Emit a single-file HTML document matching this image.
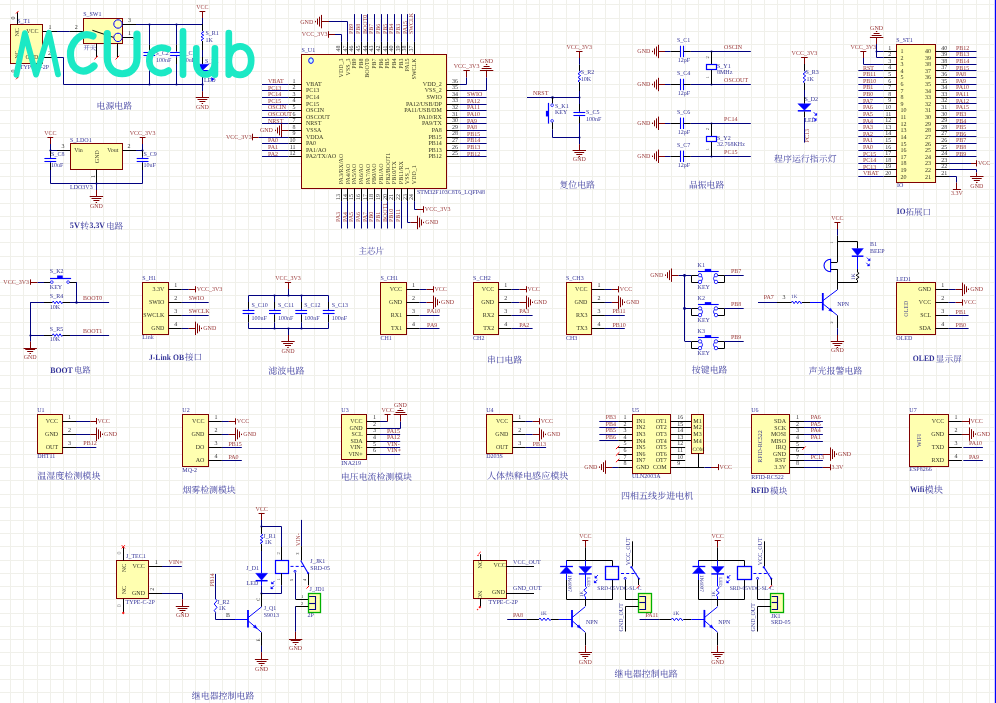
<!DOCTYPE html>
<html><head><meta charset="utf-8"><title>schematic</title>
<style>html,body{margin:0;padding:0;background:#fff;overflow:hidden}svg{display:block}text{font-family:"Liberation Serif",serif;text-rendering:geometricPrecision;fill-opacity:.82}text.cj{font-family:"Liberation Serif","Noto Serif CJK SC",serif;fill:#4040a0;fill-opacity:1}</style>
</head><body>
<svg width="996" height="703" viewBox="0 0 996 703" font-family="Liberation Serif, serif" fill="none">
<rect width="996" height="703" fill="#ffffff"/>
<path d="M10.5 0V703M23.5 0V703M37.5 0V703M50.5 0V703M63.5 0V703M76.5 0V703M90.5 0V703M103.5 0V703M116.5 0V703M129.5 0V703M142.5 0V703M156.5 0V703M169.5 0V703M182.5 0V703M195.5 0V703M209.5 0V703M222.5 0V703M235.5 0V703M248.5 0V703M261.5 0V703M275.5 0V703M288.5 0V703M301.5 0V703M314.5 0V703M328.5 0V703M341.5 0V703M354.5 0V703M367.5 0V703M380.5 0V703M394.5 0V703M407.5 0V703M420.5 0V703M433.5 0V703M447.5 0V703M460.5 0V703M473.5 0V703M486.5 0V703M499.5 0V703M513.5 0V703M526.5 0V703M539.5 0V703M552.5 0V703M566.5 0V703M579.5 0V703M592.5 0V703M605.5 0V703M619.5 0V703M632.5 0V703M645.5 0V703M658.5 0V703M671.5 0V703M685.5 0V703M698.5 0V703M711.5 0V703M724.5 0V703M738.5 0V703M751.5 0V703M764.5 0V703M777.5 0V703M790.5 0V703M804.5 0V703M817.5 0V703M830.5 0V703M843.5 0V703M857.5 0V703M870.5 0V703M883.5 0V703M896.5 0V703M909.5 0V703M923.5 0V703M936.5 0V703M949.5 0V703M962.5 0V703M976.5 0V703M989.5 0V703M0 4.5H994M0 18.5H994M0 31.5H994M0 44.5H994M0 57.5H994M0 71.5H994M0 84.5H994M0 97.5H994M0 110.5H994M0 123.5H994M0 137.5H994M0 150.5H994M0 163.5H994M0 176.5H994M0 189.5H994M0 203.5H994M0 216.5H994M0 229.5H994M0 242.5H994M0 256.5H994M0 269.5H994M0 282.5H994M0 295.5H994M0 308.5H994M0 322.5H994M0 335.5H994M0 348.5H994M0 361.5H994M0 375.5H994M0 388.5H994M0 401.5H994M0 414.5H994M0 427.5H994M0 441.5H994M0 454.5H994M0 467.5H994M0 480.5H994M0 494.5H994M0 507.5H994M0 520.5H994M0 533.5H994M0 546.5H994M0 560.5H994M0 573.5H994M0 586.5H994M0 599.5H994M0 613.5H994M0 626.5H994M0 639.5H994M0 652.5H994M0 665.5H994M0 679.5H994M0 692.5H994" stroke="#f0f0ea" stroke-width="1" shape-rendering="crispEdges"/>
<rect x="994.8" y="0" width="1.2" height="703" fill="#0000ff"/>
<g opacity="0.999">
<rect x="10.5" y="24.5" width="32" height="39" fill="#ffffb0" stroke="#800000" stroke-width="1"/>
<path d="M17.5 12.2L17.5 24.3" stroke="#000000" stroke-width="1"/>
<path d="M16 13.5L18.6 10.9" stroke="#ff0000" stroke-width="1"/>
<path d="M17.5 63.4L17.5 78" stroke="#000000" stroke-width="1"/>
<path d="M16 79.3L18.6 76.7" stroke="#ff0000" stroke-width="1"/>
<text x="15.2" y="19.5" fill="#000000" font-size="6" transform="rotate(-90 15.2 19.5)">0</text>
<text x="15.2" y="72.5" fill="#000000" font-size="6" transform="rotate(-90 15.2 72.5)">0</text>
<text x="17.2" y="22.8" fill="#000080" font-size="6">S_T1</text>
<text x="38.6" y="32.8" fill="#000000" font-size="6" text-anchor="end">VCC</text>
<text x="38.4" y="59" fill="#000000" font-size="6" text-anchor="end">GND</text>
<text x="18.6" y="36.5" fill="#000000" font-size="6" transform="rotate(-90 18.6 36.5)">NC</text>
<text x="18.6" y="58.8" fill="#000000" font-size="6" transform="rotate(-90 18.6 58.8)">NC</text>
<text x="19.8" y="68.6" fill="#000080" font-size="6">TYPE-C-2P</text>
<path d="M42.6 31.5L57 31.5" stroke="#000000" stroke-width="1"/>
<text x="48.5" y="28.6" fill="#000000" font-size="6">1</text>
<path d="M57 31.5L69.8 31.5" stroke="#000080" stroke-width="1" fill="none"/>
<path d="M69.8 31.5L83.2 31.5" stroke="#000000" stroke-width="1"/>
<text x="74.8" y="28.6" fill="#000000" font-size="6">2</text>
<path d="M42.6 57.5L57 57.5" stroke="#000000" stroke-width="1"/>
<text x="48" y="55" fill="#000000" font-size="6">2</text>
<path d="M57 57.5L63.5 57.5L63.5 84.5L202.4 84.5" stroke="#000080" stroke-width="1" fill="none"/>
<rect x="83.5" y="18.5" width="39" height="25" fill="#ffffb0" stroke="#800000" stroke-width="1"/>
<text x="83.2" y="16" fill="#000080" font-size="6">S_SW1</text>
<circle cx="118" cy="24" r="4.2" stroke="#0000ff" fill="none" stroke-width="1"/>
<circle cx="118" cy="37.4" r="4.2" stroke="#0000ff" fill="none" stroke-width="1"/>
<path d="M92.4 30.3L113.5 37.4" stroke="#000000" stroke-width="1"/>
<path d="M122.5 24.5L136 24.5" stroke="#000000" stroke-width="1"/>
<text x="128" y="21.8" fill="#000000" font-size="6">3</text>
<path d="M122.5 37.5L133.6 37.5" stroke="#000000" stroke-width="1"/>
<text x="128" y="35.3" fill="#000000" font-size="6">1</text>
<path d="M132.8 39.3L134.4 37.7" stroke="#ff0000" stroke-width="1"/>
<path d="M96.5 43.5L96.5 57" stroke="#000000" stroke-width="1"/>
<path d="M94.4 59.4L98 55.8" stroke="#ff0000" stroke-width="1"/>
<path d="M117.5 43.5L117.5 57" stroke="#000000" stroke-width="1"/>
<path d="M115.6 59.4L119.2 55.8" stroke="#ff0000" stroke-width="1"/>
<text class="cj" x="83.4" y="49.6" font-size="6.4">开关</text>
<path d="M136 24.5L202.4 24.5" stroke="#000080" stroke-width="1" fill="none"/>
<path d="M149.5 24L149.5 44.8" stroke="#000080" stroke-width="1" fill="none"/>
<path d="M149.5 44.8L149.5 51.4" stroke="#000000" stroke-width="1"/>
<path d="M149.5 57.2L149.5 64" stroke="#000000" stroke-width="1"/>
<path d="M149.5 64L149.5 84.3" stroke="#000080" stroke-width="1" fill="none"/>
<path d="M143.4 52.5L155.2 52.5" stroke="#0000ff" stroke-width="1.1"/>
<path d="M143.4 55.5L155.2 55.5" stroke="#0000ff" stroke-width="1.1"/>
<path d="M149.5 51.3L149.5 52.9" stroke="#0000ff" stroke-width="1"/>
<path d="M149.5 55.7L149.5 57.3" stroke="#0000ff" stroke-width="1"/>
<circle cx="149.5" cy="24.5" r="1.1" fill="#000080"/>
<circle cx="149.5" cy="84.5" r="1.1" fill="#000080"/>
<text x="155.5" y="54.9" fill="#000080" font-size="6">S_C2</text>
<text x="156.1" y="61.6" fill="#000080" font-size="6">100nF</text>
<path d="M176.5 24L176.5 44.8" stroke="#000080" stroke-width="1" fill="none"/>
<path d="M176.5 44.8L176.5 51.4" stroke="#000000" stroke-width="1"/>
<path d="M176.5 57.2L176.5 64" stroke="#000000" stroke-width="1"/>
<path d="M176.5 64L176.5 84.3" stroke="#000080" stroke-width="1" fill="none"/>
<path d="M170.1 52.5L181.9 52.5" stroke="#0000ff" stroke-width="1.1"/>
<path d="M170.1 55.5L181.9 55.5" stroke="#0000ff" stroke-width="1.1"/>
<path d="M176.5 51.3L176.5 52.9" stroke="#0000ff" stroke-width="1"/>
<path d="M176.5 55.7L176.5 57.3" stroke="#0000ff" stroke-width="1"/>
<circle cx="176.5" cy="24.5" r="1.1" fill="#000080"/>
<circle cx="176.5" cy="84.5" r="1.1" fill="#000080"/>
<text x="182.2" y="54.9" fill="#000080" font-size="6">S_C7</text>
<text x="182.8" y="61.6" fill="#000080" font-size="6">10uF</text>
<path d="M202.5 18L202.5 11.4" stroke="#800000" stroke-width="1"/>
<path d="M199.5 11.5L205.3 11.5" stroke="#800000" stroke-width="1"/>
<text x="202.4" y="9" fill="#800000" font-size="6" text-anchor="middle">VCC</text>
<path d="M202.5 18L202.5 24" stroke="#000080" stroke-width="1" fill="none"/>
<path d="M202.5 24L202.5 31" stroke="#000000" stroke-width="1"/>
<path d="M202.4 31L203.7 31.83L201.1 33.5L203.7 35.17L201.1 36.83L203.7 38.5L201.1 40.17L202.4 41" stroke="#0000ff" stroke-width="1" fill="none"/>
<path d="M202.5 41L202.5 50" stroke="#000000" stroke-width="1"/>
<text x="205.5" y="34.6" fill="#000080" font-size="6">S_R1</text>
<text x="205.5" y="41.6" fill="#000080" font-size="6">1K</text>
<path d="M202.5 50L202.5 57" stroke="#000080" stroke-width="1" fill="none"/>
<path d="M202.5 57L202.5 64.3" stroke="#000000" stroke-width="1"/>
<path d="M195.9 64.3L208.9 64.3L202.4 70.4Z" stroke="#0000ff" stroke-width="0.5" fill="#0000ff"/>
<path d="M195.9 70.8L208.9 70.8" stroke="#0000ff" stroke-width="1.6"/>
<text x="205" y="62.5" fill="#000080" font-size="6">S_D1</text>
<text x="204" y="81.6" fill="#000080" font-size="6">LED</text>
<path d="M211.5 77.6L214.2 79.2L211.5 80.8Z" stroke="#0000ff" stroke-width="0.5" fill="#0000ff"/>
<path d="M202.5 71.5L202.5 78" stroke="#000000" stroke-width="1"/>
<path d="M202.5 78L202.5 91.2" stroke="#000080" stroke-width="1" fill="none"/>
<circle cx="202.5" cy="84.5" r="1.1" fill="#000080"/>
<path d="M202.5 91.2L202.5 97.8" stroke="#800000" stroke-width="1"/>
<path d="M195.7 97.5L209.1 97.5" stroke="#800000" stroke-width="1"/>
<path d="M197.5 99.5L207.3 99.5" stroke="#800000" stroke-width="1"/>
<path d="M199.4 101.5L205.4 101.5" stroke="#800000" stroke-width="1"/>
<path d="M201.7 103.5L203.1 103.5" stroke="#800000" stroke-width="1"/>
<text x="202.4" y="109.05" fill="#800000" font-size="6" text-anchor="middle">GND</text>
<text class="cj" x="96.6" y="109" font-size="8.9">电源电路</text>
<rect x="70.5" y="143.5" width="52" height="26" fill="#ffffb0" stroke="#800000" stroke-width="1"/>
<text x="70" y="141.6" fill="#000080" font-size="6">S_LDO1</text>
<text x="74.2" y="151.6" fill="#000000" font-size="6">Vin</text>
<text x="118.4" y="151.6" fill="#000000" font-size="6" text-anchor="end">Vout</text>
<text x="98.6" y="163.2" fill="#000000" font-size="6" transform="rotate(-90 98.6 163.2)">GND</text>
<path d="M57 150.5L70.2 150.5" stroke="#000000" stroke-width="1"/>
<text x="61.5" y="148" fill="#000000" font-size="6">3</text>
<path d="M122.6 150.5L136 150.5" stroke="#000000" stroke-width="1"/>
<text x="127.5" y="148" fill="#000000" font-size="6">2</text>
<path d="M96.5 169.5L96.5 183" stroke="#000000" stroke-width="1"/>
<text x="94.6" y="178" fill="#000000" font-size="6" transform="rotate(-90 94.6 178)">1</text>
<text x="70" y="188.6" fill="#000080" font-size="6">LDO3V3</text>
<path d="M50.5 144L50.5 137.4" stroke="#800000" stroke-width="1"/>
<path d="M47.4 137.5L53.2 137.5" stroke="#800000" stroke-width="1"/>
<text x="50.3" y="135" fill="#800000" font-size="6" text-anchor="middle">VCC</text>
<path d="M50.5 144L50.5 150" stroke="#000080" stroke-width="1" fill="none"/>
<circle cx="50.5" cy="150.5" r="1.1" fill="#000080"/>
<path d="M50.5 150L50.5 156.9" stroke="#000000" stroke-width="1"/>
<path d="M44.4 158.5L56.2 158.5" stroke="#0000ff" stroke-width="1.1"/>
<path d="M44.4 161.5L56.2 161.5" stroke="#0000ff" stroke-width="1.1"/>
<path d="M50.5 156.85L50.5 158.45" stroke="#0000ff" stroke-width="1"/>
<path d="M50.5 161.25L50.5 162.85" stroke="#0000ff" stroke-width="1"/>
<path d="M50.5 162.8L50.5 170" stroke="#000000" stroke-width="1"/>
<text x="51.1" y="156" fill="#000080" font-size="6">S_C8</text>
<text x="51.1" y="167.3" fill="#000080" font-size="6">10uF</text>
<path d="M142.5 144L142.5 137.4" stroke="#800000" stroke-width="1"/>
<path d="M139.7 137.5L145.5 137.5" stroke="#800000" stroke-width="1"/>
<text x="142.6" y="135" fill="#800000" font-size="6" text-anchor="middle">VCC_3V3</text>
<path d="M142.5 144L142.5 150" stroke="#000080" stroke-width="1" fill="none"/>
<circle cx="142.5" cy="150.5" r="1.1" fill="#000080"/>
<path d="M142.5 150L142.5 156.9" stroke="#000000" stroke-width="1"/>
<path d="M136.7 158.5L148.5 158.5" stroke="#0000ff" stroke-width="1.1"/>
<path d="M136.7 161.5L148.5 161.5" stroke="#0000ff" stroke-width="1.1"/>
<path d="M142.5 156.85L142.5 158.45" stroke="#0000ff" stroke-width="1"/>
<path d="M142.5 161.25L142.5 162.85" stroke="#0000ff" stroke-width="1"/>
<path d="M142.5 162.8L142.5 170" stroke="#000000" stroke-width="1"/>
<text x="143.4" y="156" fill="#000080" font-size="6">S_C9</text>
<text x="143.4" y="167.3" fill="#000080" font-size="6">10uF</text>
<path d="M50.3 150.5L57 150.5" stroke="#000080" stroke-width="1" fill="none"/>
<path d="M136 150.5L142.6 150.5" stroke="#000080" stroke-width="1" fill="none"/>
<path d="M50.5 170L50.5 183.5L142.5 183.5L142.5 170" stroke="#000080" stroke-width="1" fill="none"/>
<circle cx="96.5" cy="183.5" r="1.1" fill="#000080"/>
<path d="M96.5 183.3L96.5 190" stroke="#000080" stroke-width="1" fill="none"/>
<path d="M96.5 190L96.5 196.6" stroke="#800000" stroke-width="1"/>
<path d="M89.7 196.5L103.1 196.5" stroke="#800000" stroke-width="1"/>
<path d="M91.5 198.5L101.3 198.5" stroke="#800000" stroke-width="1"/>
<path d="M93.4 200.5L99.4 200.5" stroke="#800000" stroke-width="1"/>
<path d="M95.7 202.5L97.1 202.5" stroke="#800000" stroke-width="1"/>
<text x="96.4" y="207.85" fill="#800000" font-size="6" text-anchor="middle">GND</text>
<text x="69.8" y="228.2" fill="#000080" font-size="8.3" font-weight="bold" fill-opacity="0.75" textLength="10" lengthAdjust="spacingAndGlyphs">5V</text>
<text class="cj" x="80.3" y="228.6" font-size="8.9">转</text>
<text x="89.6" y="228.2" fill="#000080" font-size="8.3" font-weight="bold" fill-opacity="0.75" textLength="15.3" lengthAdjust="spacingAndGlyphs">3.3V</text>
<text class="cj" x="106.3" y="228.6" font-size="8.5">电路</text>
<rect x="301.5" y="54.5" width="145" height="134" fill="#ffffb0" stroke="#800000" stroke-width="1"/>
<text x="301.5" y="52" fill="#000080" font-size="6">S_U1</text>
<ellipse cx="311" cy="60.6" rx="2.3" ry="2.8" stroke="#0000ff" fill="#c8ffff" stroke-width="1"/>
<path d="M288.5 84.5L301.6 84.5" stroke="#000000" stroke-width="1"/>
<text x="295.5" y="82.7" fill="#000000" font-size="6" text-anchor="end">1</text>
<text x="306" y="85.9" fill="#000000" font-size="6">VBAT</text>
<path d="M262 84.5L288.5 84.5" stroke="#000080" stroke-width="1" fill="none"/>
<text x="268" y="83.1" fill="#800000" font-size="6">VBAT</text>
<path d="M288.5 90.5L301.6 90.5" stroke="#000000" stroke-width="1"/>
<text x="295.5" y="89.29" fill="#000000" font-size="6" text-anchor="end">2</text>
<text x="306" y="92.49" fill="#000000" font-size="6">PC13</text>
<path d="M262 90.5L288.5 90.5" stroke="#000080" stroke-width="1" fill="none"/>
<text x="268" y="89.69" fill="#800000" font-size="6">PC13</text>
<path d="M288.5 97.5L301.6 97.5" stroke="#000000" stroke-width="1"/>
<text x="295.5" y="95.88" fill="#000000" font-size="6" text-anchor="end">3</text>
<text x="306" y="99.08" fill="#000000" font-size="6">PC14</text>
<path d="M262 97.5L288.5 97.5" stroke="#000080" stroke-width="1" fill="none"/>
<text x="268" y="96.28" fill="#800000" font-size="6">PC14</text>
<path d="M288.5 104.5L301.6 104.5" stroke="#000000" stroke-width="1"/>
<text x="295.5" y="102.47" fill="#000000" font-size="6" text-anchor="end">4</text>
<text x="306" y="105.67" fill="#000000" font-size="6">PC15</text>
<path d="M262 104.5L288.5 104.5" stroke="#000080" stroke-width="1" fill="none"/>
<text x="268" y="102.87" fill="#800000" font-size="6">PC15</text>
<path d="M288.5 110.5L301.6 110.5" stroke="#000000" stroke-width="1"/>
<text x="295.5" y="109.06" fill="#000000" font-size="6" text-anchor="end">5</text>
<text x="306" y="112.26" fill="#000000" font-size="6">OSCIN</text>
<path d="M262 110.5L288.5 110.5" stroke="#000080" stroke-width="1" fill="none"/>
<text x="268" y="109.46" fill="#800000" font-size="6">OSCIN</text>
<path d="M288.5 117.5L301.6 117.5" stroke="#000000" stroke-width="1"/>
<text x="295.5" y="115.65" fill="#000000" font-size="6" text-anchor="end">6</text>
<text x="306" y="118.85" fill="#000000" font-size="6">OSCOUT</text>
<path d="M262 117.5L288.5 117.5" stroke="#000080" stroke-width="1" fill="none"/>
<text x="268" y="116.05" fill="#800000" font-size="6">OSCOUT</text>
<path d="M288.5 123.5L301.6 123.5" stroke="#000000" stroke-width="1"/>
<text x="295.5" y="122.24" fill="#000000" font-size="6" text-anchor="end">7</text>
<text x="306" y="125.44" fill="#000000" font-size="6">NRST</text>
<path d="M262 123.5L288.5 123.5" stroke="#000080" stroke-width="1" fill="none"/>
<text x="268" y="122.64" fill="#800000" font-size="6">NRST</text>
<path d="M288.5 130.5L301.6 130.5" stroke="#000000" stroke-width="1"/>
<text x="295.5" y="128.83" fill="#000000" font-size="6" text-anchor="end">8</text>
<text x="306" y="132.03" fill="#000000" font-size="6">VSSA</text>
<path d="M288.5 137.5L301.6 137.5" stroke="#000000" stroke-width="1"/>
<text x="295.5" y="135.42" fill="#000000" font-size="6" text-anchor="end">9</text>
<text x="306" y="138.62" fill="#000000" font-size="6">VDDA</text>
<path d="M288.5 143.5L301.6 143.5" stroke="#000000" stroke-width="1"/>
<text x="295.5" y="142.01" fill="#000000" font-size="6" text-anchor="end">10</text>
<text x="306" y="145.21" fill="#000000" font-size="6">PA0</text>
<path d="M262 143.5L288.5 143.5" stroke="#000080" stroke-width="1" fill="none"/>
<text x="268" y="142.41" fill="#800000" font-size="6">PA0</text>
<path d="M288.5 150.5L301.6 150.5" stroke="#000000" stroke-width="1"/>
<text x="295.5" y="148.6" fill="#000000" font-size="6" text-anchor="end">11</text>
<text x="306" y="151.8" fill="#000000" font-size="6">PA1/AO</text>
<path d="M262 150.5L288.5 150.5" stroke="#000080" stroke-width="1" fill="none"/>
<text x="268" y="149" fill="#800000" font-size="6">PA1</text>
<path d="M288.5 156.5L301.6 156.5" stroke="#000000" stroke-width="1"/>
<text x="295.5" y="155.19" fill="#000000" font-size="6" text-anchor="end">12</text>
<text x="306" y="158.39" fill="#000000" font-size="6">PA2/TX/AO</text>
<path d="M262 156.5L288.5 156.5" stroke="#000080" stroke-width="1" fill="none"/>
<text x="268" y="155.59" fill="#800000" font-size="6">PA2</text>
<path d="M288.5 130.5L281.3 130.5" stroke="#800000" stroke-width="1"/>
<path d="M281.5 123.73L281.5 137.13" stroke="#800000" stroke-width="1"/>
<path d="M279.5 125.53L279.5 135.33" stroke="#800000" stroke-width="1"/>
<path d="M277.5 127.43L277.5 133.43" stroke="#800000" stroke-width="1"/>
<path d="M275.5 129.73L275.5 131.13" stroke="#800000" stroke-width="1"/>
<text x="272.95" y="132.33" fill="#800000" font-size="6" text-anchor="end">GND</text>
<path d="M258.6 137.5L288.5 137.5" stroke="#000080" stroke-width="1" fill="none"/>
<path d="M258.6 137.5L252.9 137.5" stroke="#800000" stroke-width="1"/>
<path d="M252.5 133.72L252.5 140.32" stroke="#800000" stroke-width="1"/>
<text x="251.7" y="138.92" fill="#800000" font-size="6" text-anchor="end">VCC_3V3</text>
<path d="M446.6 84.5L459.8 84.5" stroke="#000000" stroke-width="1"/>
<text x="452" y="82.7" fill="#000000" font-size="6">36</text>
<text x="441.8" y="85.9" fill="#000000" font-size="6" text-anchor="end">VDD_2</text>
<path d="M446.6 90.5L459.8 90.5" stroke="#000000" stroke-width="1"/>
<text x="452" y="89.29" fill="#000000" font-size="6">35</text>
<text x="441.8" y="92.49" fill="#000000" font-size="6" text-anchor="end">VSS_2</text>
<path d="M446.6 97.5L459.8 97.5" stroke="#000000" stroke-width="1"/>
<text x="452" y="95.88" fill="#000000" font-size="6">34</text>
<text x="441.8" y="99.08" fill="#000000" font-size="6" text-anchor="end">SWIO</text>
<path d="M459.8 97.5L486.6 97.5" stroke="#000080" stroke-width="1" fill="none"/>
<text x="467" y="96.28" fill="#800000" font-size="6">SWIO</text>
<path d="M446.6 104.5L459.8 104.5" stroke="#000000" stroke-width="1"/>
<text x="452" y="102.47" fill="#000000" font-size="6">33</text>
<text x="441.8" y="105.67" fill="#000000" font-size="6" text-anchor="end">PA12/USB/DP</text>
<path d="M459.8 104.5L486.6 104.5" stroke="#000080" stroke-width="1" fill="none"/>
<text x="467" y="102.87" fill="#800000" font-size="6">PA12</text>
<path d="M446.6 110.5L459.8 110.5" stroke="#000000" stroke-width="1"/>
<text x="452" y="109.06" fill="#000000" font-size="6">32</text>
<text x="441.8" y="112.26" fill="#000000" font-size="6" text-anchor="end">PA11/USB/DM</text>
<path d="M459.8 110.5L486.6 110.5" stroke="#000080" stroke-width="1" fill="none"/>
<text x="467" y="109.46" fill="#800000" font-size="6">PA11</text>
<path d="M446.6 117.5L459.8 117.5" stroke="#000000" stroke-width="1"/>
<text x="452" y="115.65" fill="#000000" font-size="6">31</text>
<text x="441.8" y="118.85" fill="#000000" font-size="6" text-anchor="end">PA10/RX</text>
<path d="M459.8 117.5L486.6 117.5" stroke="#000080" stroke-width="1" fill="none"/>
<text x="467" y="116.05" fill="#800000" font-size="6">PA10</text>
<path d="M446.6 123.5L459.8 123.5" stroke="#000000" stroke-width="1"/>
<text x="452" y="122.24" fill="#000000" font-size="6">30</text>
<text x="441.8" y="125.44" fill="#000000" font-size="6" text-anchor="end">PA9/TX</text>
<path d="M459.8 123.5L486.6 123.5" stroke="#000080" stroke-width="1" fill="none"/>
<text x="467" y="122.64" fill="#800000" font-size="6">PA9</text>
<path d="M446.6 130.5L459.8 130.5" stroke="#000000" stroke-width="1"/>
<text x="452" y="128.83" fill="#000000" font-size="6">29</text>
<text x="441.8" y="132.03" fill="#000000" font-size="6" text-anchor="end">PA8</text>
<path d="M459.8 130.5L486.6 130.5" stroke="#000080" stroke-width="1" fill="none"/>
<text x="467" y="129.23" fill="#800000" font-size="6">PA8</text>
<path d="M446.6 137.5L459.8 137.5" stroke="#000000" stroke-width="1"/>
<text x="452" y="135.42" fill="#000000" font-size="6">28</text>
<text x="441.8" y="138.62" fill="#000000" font-size="6" text-anchor="end">PB15</text>
<path d="M459.8 137.5L486.6 137.5" stroke="#000080" stroke-width="1" fill="none"/>
<text x="467" y="135.82" fill="#800000" font-size="6">PB15</text>
<path d="M446.6 143.5L459.8 143.5" stroke="#000000" stroke-width="1"/>
<text x="452" y="142.01" fill="#000000" font-size="6">27</text>
<text x="441.8" y="145.21" fill="#000000" font-size="6" text-anchor="end">PB14</text>
<path d="M459.8 143.5L486.6 143.5" stroke="#000080" stroke-width="1" fill="none"/>
<text x="467" y="142.41" fill="#800000" font-size="6">PB14</text>
<path d="M446.6 150.5L459.8 150.5" stroke="#000000" stroke-width="1"/>
<text x="452" y="148.6" fill="#000000" font-size="6">26</text>
<text x="441.8" y="151.8" fill="#000000" font-size="6" text-anchor="end">PB13</text>
<path d="M459.8 150.5L486.6 150.5" stroke="#000080" stroke-width="1" fill="none"/>
<text x="467" y="149" fill="#800000" font-size="6">PB13</text>
<path d="M446.6 156.5L459.8 156.5" stroke="#000000" stroke-width="1"/>
<text x="452" y="155.19" fill="#000000" font-size="6">25</text>
<text x="441.8" y="158.39" fill="#000000" font-size="6" text-anchor="end">PB12</text>
<path d="M459.8 156.5L486.6 156.5" stroke="#000080" stroke-width="1" fill="none"/>
<text x="467" y="155.59" fill="#800000" font-size="6">PB12</text>
<path d="M459.8 84.5L466.5 84.5L466.5 77.3" stroke="#000080" stroke-width="1" fill="none"/>
<path d="M466.5 77.3L466.5 70.5" stroke="#800000" stroke-width="1"/>
<path d="M463.4 70.5L469.8 70.5" stroke="#800000" stroke-width="1"/>
<text x="466.6" y="68.1" fill="#800000" font-size="6" text-anchor="middle">VCC_3V3</text>
<path d="M459.8 90.5L486.5 90.5L486.5 77.3" stroke="#000080" stroke-width="1" fill="none"/>
<path d="M486.5 77.3L486.5 70.5" stroke="#800000" stroke-width="1"/>
<path d="M479.9 70.5L493.3 70.5" stroke="#800000" stroke-width="1"/>
<path d="M481.7 68.5L491.5 68.5" stroke="#800000" stroke-width="1"/>
<path d="M483.6 66.5L489.6 66.5" stroke="#800000" stroke-width="1"/>
<path d="M485.9 64.5L487.3 64.5" stroke="#800000" stroke-width="1"/>
<text x="486.6" y="62.85" fill="#800000" font-size="6" text-anchor="middle">GND</text>
<path d="M341.5 54.5L341.5 41.8" stroke="#000000" stroke-width="1"/>
<text x="340" y="51.5" fill="#000000" font-size="6" transform="rotate(-90 340 51.5)">48</text>
<text x="342.9" y="58.4" fill="#000000" font-size="6" text-anchor="end" transform="rotate(-90 342.9 58.4)">VDD_3</text>
<path d="M347.5 54.5L347.5 41.8" stroke="#000000" stroke-width="1"/>
<text x="346.64" y="51.5" fill="#000000" font-size="6" transform="rotate(-90 346.64 51.5)">47</text>
<text x="349.55" y="58.4" fill="#000000" font-size="6" text-anchor="end" transform="rotate(-90 349.55 58.4)">VSS_3</text>
<path d="M354.5 54.5L354.5 41.8" stroke="#000000" stroke-width="1"/>
<text x="353.29" y="51.5" fill="#000000" font-size="6" transform="rotate(-90 353.29 51.5)">46</text>
<text x="356.19" y="58.4" fill="#000000" font-size="6" text-anchor="end" transform="rotate(-90 356.19 58.4)">PB9</text>
<path d="M354.5 41.8L354.5 14.1" stroke="#000080" stroke-width="1" fill="none"/>
<text x="353.39" y="34" fill="#800000" font-size="6" transform="rotate(-90 353.39 34)">PB9</text>
<path d="M361.5 54.5L361.5 41.8" stroke="#000000" stroke-width="1"/>
<text x="359.94" y="51.5" fill="#000000" font-size="6" transform="rotate(-90 359.94 51.5)">45</text>
<text x="362.84" y="58.4" fill="#000000" font-size="6" text-anchor="end" transform="rotate(-90 362.84 58.4)">PB8</text>
<path d="M361.5 41.8L361.5 14.1" stroke="#000080" stroke-width="1" fill="none"/>
<text x="360.04" y="34" fill="#800000" font-size="6" transform="rotate(-90 360.04 34)">PB8</text>
<path d="M367.5 54.5L367.5 41.8" stroke="#000000" stroke-width="1"/>
<text x="366.58" y="51.5" fill="#000000" font-size="6" transform="rotate(-90 366.58 51.5)">44</text>
<text x="369.48" y="58.4" fill="#000000" font-size="6" text-anchor="end" transform="rotate(-90 369.48 58.4)">BOOT0</text>
<path d="M367.5 41.8L367.5 14.1" stroke="#000080" stroke-width="1" fill="none"/>
<text x="366.68" y="34" fill="#800000" font-size="6" transform="rotate(-90 366.68 34)">BOOT0</text>
<path d="M374.5 54.5L374.5 41.8" stroke="#000000" stroke-width="1"/>
<text x="373.22" y="51.5" fill="#000000" font-size="6" transform="rotate(-90 373.22 51.5)">43</text>
<text x="376.12" y="58.4" fill="#000000" font-size="6" text-anchor="end" transform="rotate(-90 376.12 58.4)">PB7</text>
<path d="M374.5 41.8L374.5 14.1" stroke="#000080" stroke-width="1" fill="none"/>
<text x="373.32" y="34" fill="#800000" font-size="6" transform="rotate(-90 373.32 34)">PB7</text>
<path d="M381.5 54.5L381.5 41.8" stroke="#000000" stroke-width="1"/>
<text x="379.87" y="51.5" fill="#000000" font-size="6" transform="rotate(-90 379.87 51.5)">42</text>
<text x="382.77" y="58.4" fill="#000000" font-size="6" text-anchor="end" transform="rotate(-90 382.77 58.4)">PB6</text>
<path d="M381.5 41.8L381.5 14.1" stroke="#000080" stroke-width="1" fill="none"/>
<text x="379.97" y="34" fill="#800000" font-size="6" transform="rotate(-90 379.97 34)">PB6</text>
<path d="M387.5 54.5L387.5 41.8" stroke="#000000" stroke-width="1"/>
<text x="386.51" y="51.5" fill="#000000" font-size="6" transform="rotate(-90 386.51 51.5)">41</text>
<text x="389.42" y="58.4" fill="#000000" font-size="6" text-anchor="end" transform="rotate(-90 389.42 58.4)">PB5</text>
<path d="M387.5 41.8L387.5 14.1" stroke="#000080" stroke-width="1" fill="none"/>
<text x="386.62" y="34" fill="#800000" font-size="6" transform="rotate(-90 386.62 34)">PB5</text>
<path d="M394.5 54.5L394.5 41.8" stroke="#000000" stroke-width="1"/>
<text x="393.16" y="51.5" fill="#000000" font-size="6" transform="rotate(-90 393.16 51.5)">40</text>
<text x="396.06" y="58.4" fill="#000000" font-size="6" text-anchor="end" transform="rotate(-90 396.06 58.4)">PB4</text>
<path d="M394.5 41.8L394.5 14.1" stroke="#000080" stroke-width="1" fill="none"/>
<text x="393.26" y="34" fill="#800000" font-size="6" transform="rotate(-90 393.26 34)">PB4</text>
<path d="M401.5 54.5L401.5 41.8" stroke="#000000" stroke-width="1"/>
<text x="399.81" y="51.5" fill="#000000" font-size="6" transform="rotate(-90 399.81 51.5)">39</text>
<text x="402.71" y="58.4" fill="#000000" font-size="6" text-anchor="end" transform="rotate(-90 402.71 58.4)">PB3</text>
<path d="M401.5 41.8L401.5 14.1" stroke="#000080" stroke-width="1" fill="none"/>
<text x="399.91" y="34" fill="#800000" font-size="6" transform="rotate(-90 399.91 34)">PB3</text>
<path d="M407.5 54.5L407.5 41.8" stroke="#000000" stroke-width="1"/>
<text x="406.45" y="51.5" fill="#000000" font-size="6" transform="rotate(-90 406.45 51.5)">38</text>
<text x="409.35" y="58.4" fill="#000000" font-size="6" text-anchor="end" transform="rotate(-90 409.35 58.4)">PA15</text>
<path d="M407.5 41.8L407.5 14.1" stroke="#000080" stroke-width="1" fill="none"/>
<text x="406.55" y="34" fill="#800000" font-size="6" transform="rotate(-90 406.55 34)">PA15</text>
<path d="M414.5 54.5L414.5 41.8" stroke="#000000" stroke-width="1"/>
<text x="413.09" y="51.5" fill="#000000" font-size="6" transform="rotate(-90 413.09 51.5)">37</text>
<text x="416" y="58.4" fill="#000000" font-size="6" text-anchor="end" transform="rotate(-90 416 58.4)">SWCLK</text>
<path d="M414.5 41.8L414.5 14.1" stroke="#000080" stroke-width="1" fill="none"/>
<text x="413.19" y="34" fill="#800000" font-size="6" transform="rotate(-90 413.19 34)">SWCLK</text>
<path d="M341.5 41.8L341.5 34.5L335 34.5" stroke="#000080" stroke-width="1" fill="none"/>
<path d="M335 34.5L328.7 34.5" stroke="#800000" stroke-width="1"/>
<path d="M328.5 31.2L328.5 37.8" stroke="#800000" stroke-width="1"/>
<text x="327.5" y="36.4" fill="#800000" font-size="6" text-anchor="end">VCC_3V3</text>
<path d="M347.5 41.8L347.5 21.5L329 21.5" stroke="#000080" stroke-width="1" fill="none"/>
<path d="M329 21.5L321.6 21.5" stroke="#800000" stroke-width="1"/>
<path d="M321.5 14.9L321.5 28.3" stroke="#800000" stroke-width="1"/>
<path d="M319.5 16.7L319.5 26.5" stroke="#800000" stroke-width="1"/>
<path d="M317.5 18.6L317.5 24.6" stroke="#800000" stroke-width="1"/>
<path d="M315.5 20.9L315.5 22.3" stroke="#800000" stroke-width="1"/>
<text x="313.25" y="23.5" fill="#800000" font-size="6" text-anchor="end">GND</text>
<path d="M341.5 188.4L341.5 201.2" stroke="#000000" stroke-width="1"/>
<text x="340" y="199.9" fill="#000000" font-size="6" transform="rotate(-90 340 199.9)">13</text>
<text x="342.9" y="184.2" fill="#000000" font-size="6" transform="rotate(-90 342.9 184.2)">PA3/RX/AO</text>
<path d="M341.5 201.2L341.5 228.5" stroke="#000080" stroke-width="1" fill="none"/>
<text x="340.1" y="222" fill="#800000" font-size="6" transform="rotate(-90 340.1 222)">PA3</text>
<path d="M347.5 188.4L347.5 201.2" stroke="#000000" stroke-width="1"/>
<text x="346.66" y="199.9" fill="#000000" font-size="6" transform="rotate(-90 346.66 199.9)">14</text>
<text x="349.56" y="184.2" fill="#000000" font-size="6" transform="rotate(-90 349.56 184.2)">PA4/AO</text>
<path d="M347.5 201.2L347.5 228.5" stroke="#000080" stroke-width="1" fill="none"/>
<text x="346.76" y="222" fill="#800000" font-size="6" transform="rotate(-90 346.76 222)">PA4</text>
<path d="M354.5 188.4L354.5 201.2" stroke="#000000" stroke-width="1"/>
<text x="353.32" y="199.9" fill="#000000" font-size="6" transform="rotate(-90 353.32 199.9)">15</text>
<text x="356.22" y="184.2" fill="#000000" font-size="6" transform="rotate(-90 356.22 184.2)">PA5/AO</text>
<path d="M354.5 201.2L354.5 228.5" stroke="#000080" stroke-width="1" fill="none"/>
<text x="353.42" y="222" fill="#800000" font-size="6" transform="rotate(-90 353.42 222)">PA5</text>
<path d="M361.5 188.4L361.5 201.2" stroke="#000000" stroke-width="1"/>
<text x="359.98" y="199.9" fill="#000000" font-size="6" transform="rotate(-90 359.98 199.9)">16</text>
<text x="362.88" y="184.2" fill="#000000" font-size="6" transform="rotate(-90 362.88 184.2)">PA6/AO</text>
<path d="M361.5 201.2L361.5 228.5" stroke="#000080" stroke-width="1" fill="none"/>
<text x="360.08" y="222" fill="#800000" font-size="6" transform="rotate(-90 360.08 222)">PA6</text>
<path d="M367.5 188.4L367.5 201.2" stroke="#000000" stroke-width="1"/>
<text x="366.64" y="199.9" fill="#000000" font-size="6" transform="rotate(-90 366.64 199.9)">17</text>
<text x="369.54" y="184.2" fill="#000000" font-size="6" transform="rotate(-90 369.54 184.2)">PA7/AO</text>
<path d="M367.5 201.2L367.5 228.5" stroke="#000080" stroke-width="1" fill="none"/>
<text x="366.74" y="222" fill="#800000" font-size="6" transform="rotate(-90 366.74 222)">PA7</text>
<path d="M374.5 188.4L374.5 201.2" stroke="#000000" stroke-width="1"/>
<text x="373.3" y="199.9" fill="#000000" font-size="6" transform="rotate(-90 373.3 199.9)">18</text>
<text x="376.2" y="184.2" fill="#000000" font-size="6" transform="rotate(-90 376.2 184.2)">PB0/AO</text>
<path d="M374.5 201.2L374.5 228.5" stroke="#000080" stroke-width="1" fill="none"/>
<text x="373.4" y="222" fill="#800000" font-size="6" transform="rotate(-90 373.4 222)">PB0</text>
<path d="M381.5 188.4L381.5 201.2" stroke="#000000" stroke-width="1"/>
<text x="379.96" y="199.9" fill="#000000" font-size="6" transform="rotate(-90 379.96 199.9)">19</text>
<text x="382.86" y="184.2" fill="#000000" font-size="6" transform="rotate(-90 382.86 184.2)">PB1/AO</text>
<path d="M381.5 201.2L381.5 228.5" stroke="#000080" stroke-width="1" fill="none"/>
<text x="380.06" y="222" fill="#800000" font-size="6" transform="rotate(-90 380.06 222)">PB1</text>
<path d="M387.5 188.4L387.5 201.2" stroke="#000000" stroke-width="1"/>
<text x="386.62" y="199.9" fill="#000000" font-size="6" transform="rotate(-90 386.62 199.9)">20</text>
<text x="389.52" y="184.2" fill="#000000" font-size="6" transform="rotate(-90 389.52 184.2)">PB2/BOOT1</text>
<path d="M387.5 201.2L387.5 228.5" stroke="#000080" stroke-width="1" fill="none"/>
<text x="386.72" y="222" fill="#800000" font-size="6" transform="rotate(-90 386.72 222)">BOOT1</text>
<path d="M394.5 188.4L394.5 201.2" stroke="#000000" stroke-width="1"/>
<text x="393.28" y="199.9" fill="#000000" font-size="6" transform="rotate(-90 393.28 199.9)">21</text>
<text x="396.18" y="184.2" fill="#000000" font-size="6" transform="rotate(-90 396.18 184.2)">PB10/TX</text>
<path d="M394.5 201.2L394.5 228.5" stroke="#000080" stroke-width="1" fill="none"/>
<text x="393.38" y="222" fill="#800000" font-size="6" transform="rotate(-90 393.38 222)">PB10</text>
<path d="M401.5 188.4L401.5 201.2" stroke="#000000" stroke-width="1"/>
<text x="399.94" y="199.9" fill="#000000" font-size="6" transform="rotate(-90 399.94 199.9)">22</text>
<text x="402.84" y="184.2" fill="#000000" font-size="6" transform="rotate(-90 402.84 184.2)">PB11/RX</text>
<path d="M401.5 201.2L401.5 228.5" stroke="#000080" stroke-width="1" fill="none"/>
<text x="400.04" y="222" fill="#800000" font-size="6" transform="rotate(-90 400.04 222)">PB11</text>
<path d="M407.5 188.4L407.5 201.2" stroke="#000000" stroke-width="1"/>
<text x="406.6" y="199.9" fill="#000000" font-size="6" transform="rotate(-90 406.6 199.9)">23</text>
<text x="409.5" y="184.2" fill="#000000" font-size="6" transform="rotate(-90 409.5 184.2)">VSS_1</text>
<path d="M414.5 188.4L414.5 201.2" stroke="#000000" stroke-width="1"/>
<text x="413.26" y="199.9" fill="#000000" font-size="6" transform="rotate(-90 413.26 199.9)">24</text>
<text x="416.16" y="184.2" fill="#000000" font-size="6" transform="rotate(-90 416.16 184.2)">VDD_1</text>
<path d="M407.5 201.2L407.5 222.5L410.5 222.5" stroke="#000080" stroke-width="1" fill="none"/>
<path d="M410.5 222.5L417.6 222.5" stroke="#800000" stroke-width="1"/>
<path d="M417.5 215.8L417.5 229.2" stroke="#800000" stroke-width="1"/>
<path d="M419.5 217.6L419.5 227.4" stroke="#800000" stroke-width="1"/>
<path d="M421.5 219.5L421.5 225.5" stroke="#800000" stroke-width="1"/>
<path d="M423.5 221.8L423.5 223.2" stroke="#800000" stroke-width="1"/>
<text x="425.35" y="224.4" fill="#800000" font-size="6">GND</text>
<path d="M414.5 201.2L414.5 209.5L417 209.5" stroke="#000080" stroke-width="1" fill="none"/>
<path d="M417 209.5L423.6 209.5" stroke="#800000" stroke-width="1"/>
<path d="M423.5 206.2L423.5 212.6" stroke="#800000" stroke-width="1"/>
<text x="424.8" y="211.3" fill="#800000" font-size="6">VCC_3V3</text>
<text x="417" y="194" fill="#000080" font-size="6">STM32F103C8T6_LQFP48</text>
<text class="cj" x="358.4" y="254" font-size="8.6">主芯片</text>
<path d="M579.5 58L579.5 51.4" stroke="#800000" stroke-width="1"/>
<path d="M576.1 51.5L582.5 51.5" stroke="#800000" stroke-width="1"/>
<text x="579.3" y="49" fill="#800000" font-size="6" text-anchor="middle">VCC_3V3</text>
<path d="M579.5 58L579.5 64.7" stroke="#000080" stroke-width="1" fill="none"/>
<path d="M579.5 64.7L579.5 71" stroke="#000000" stroke-width="1"/>
<path d="M579.3 71L580.6 71.92L578 73.75L580.6 75.58L578 77.42L580.6 79.25L578 81.08L579.3 82" stroke="#0000ff" stroke-width="1" fill="none"/>
<path d="M579.5 82L579.5 91" stroke="#000000" stroke-width="1"/>
<path d="M579.5 91L579.5 104" stroke="#000080" stroke-width="1" fill="none"/>
<path d="M527 97.5L579.3 97.5" stroke="#000080" stroke-width="1" fill="none"/>
<text x="533" y="94.8" fill="#800000" font-size="6">NRST</text>
<text x="580.8" y="73.9" fill="#000080" font-size="6">S_R2</text>
<text x="580.8" y="81.2" fill="#000080" font-size="6">10K</text>
<path d="M579.5 104L579.5 111" stroke="#000000" stroke-width="1"/>
<path d="M573.4 112.5L585.2 112.5" stroke="#0000ff" stroke-width="1.1"/>
<path d="M573.4 115.5L585.2 115.5" stroke="#0000ff" stroke-width="1.1"/>
<path d="M579.5 110.9L579.5 112.5" stroke="#0000ff" stroke-width="1"/>
<path d="M579.5 115.3L579.5 116.9" stroke="#0000ff" stroke-width="1"/>
<path d="M579.5 116.8L579.5 123" stroke="#000000" stroke-width="1"/>
<path d="M579.5 123L579.5 144.2" stroke="#000080" stroke-width="1" fill="none"/>
<path d="M579.5 144.2L579.5 150.2" stroke="#800000" stroke-width="1"/>
<path d="M572.6 150.5L586 150.5" stroke="#800000" stroke-width="1"/>
<path d="M574.4 152.5L584.2 152.5" stroke="#800000" stroke-width="1"/>
<path d="M576.3 154.5L582.3 154.5" stroke="#800000" stroke-width="1"/>
<path d="M578.6 156.5L580 156.5" stroke="#800000" stroke-width="1"/>
<text x="579.3" y="161.45" fill="#800000" font-size="6" text-anchor="middle">GND</text>
<text x="586.1" y="113.7" fill="#000080" font-size="6">S_C5</text>
<text x="586.1" y="120.7" fill="#000080" font-size="6">100nF</text>
<circle cx="552.5" cy="97.5" r="1.3" fill="#000080"/>
<path d="M552.5 97.4L552.5 103.7" stroke="#000000" stroke-width="1"/>
<circle cx="552.1" cy="105.2" r="1.35" stroke="#0000ff" fill="#fff" stroke-width="0.75"/>
<circle cx="552.1" cy="120.9" r="1.35" stroke="#0000ff" fill="#fff" stroke-width="0.75"/>
<path d="M548.5 102.9L548.5 123.6" stroke="#0000ff" stroke-width="1.2"/>
<rect x="545.9" y="110.85" width="2.5" height="5.6" fill="#0000ff"/>
<path d="M552.5 122.4L552.5 129.5" stroke="#000000" stroke-width="1"/>
<path d="M552.5 129.5L552.5 137.5L579.3 137.5" stroke="#000080" stroke-width="1" fill="none"/>
<circle cx="579.5" cy="137.5" r="1" fill="#000080"/>
<circle cx="579.5" cy="97.5" r="1" fill="#000080"/>
<text x="555" y="107.7" fill="#000080" font-size="6">S_K1</text>
<text x="555" y="114.4" fill="#000080" font-size="6">KEY</text>
<text class="cj" x="559.5" y="188.2" font-size="8.9">复位电路</text>
<path d="M665 51.5L658.7 51.5" stroke="#800000" stroke-width="1"/>
<path d="M658.5 44.75L658.5 58.15" stroke="#800000" stroke-width="1"/>
<path d="M656.5 46.55L656.5 56.35" stroke="#800000" stroke-width="1"/>
<path d="M654.5 48.45L654.5 54.45" stroke="#800000" stroke-width="1"/>
<path d="M652.5 50.75L652.5 52.15" stroke="#800000" stroke-width="1"/>
<text x="650.35" y="53.35" fill="#800000" font-size="6" text-anchor="end">GND</text>
<path d="M665 51.5L670.7 51.5" stroke="#000080" stroke-width="1" fill="none"/>
<path d="M670.7 51.5L680.4 51.5" stroke="#000000" stroke-width="1"/>
<path d="M680.5 45.75L680.5 57.15" stroke="#0000ff" stroke-width="1.1"/>
<path d="M683.5 45.75L683.5 57.15" stroke="#0000ff" stroke-width="1.1"/>
<path d="M683.6 51.5L690.8 51.5" stroke="#000000" stroke-width="1"/>
<path d="M690.8 51.5L750.8 51.5" stroke="#000080" stroke-width="1" fill="none"/>
<text x="677" y="42.05" fill="#000080" font-size="6">S_C1</text>
<text x="677.7" y="61.65" fill="#000080" font-size="6">12pF</text>
<path d="M665 84.5L658.7 84.5" stroke="#800000" stroke-width="1"/>
<path d="M658.5 77.8L658.5 91.2" stroke="#800000" stroke-width="1"/>
<path d="M656.5 79.6L656.5 89.4" stroke="#800000" stroke-width="1"/>
<path d="M654.5 81.5L654.5 87.5" stroke="#800000" stroke-width="1"/>
<path d="M652.5 83.8L652.5 85.2" stroke="#800000" stroke-width="1"/>
<text x="650.35" y="86.4" fill="#800000" font-size="6" text-anchor="end">GND</text>
<path d="M665 84.5L670.7 84.5" stroke="#000080" stroke-width="1" fill="none"/>
<path d="M670.7 84.5L680.4 84.5" stroke="#000000" stroke-width="1"/>
<path d="M680.5 78.8L680.5 90.2" stroke="#0000ff" stroke-width="1.1"/>
<path d="M683.5 78.8L683.5 90.2" stroke="#0000ff" stroke-width="1.1"/>
<path d="M683.6 84.5L690.8 84.5" stroke="#000000" stroke-width="1"/>
<path d="M690.8 84.5L750.8 84.5" stroke="#000080" stroke-width="1" fill="none"/>
<text x="677" y="75.1" fill="#000080" font-size="6">S_C4</text>
<text x="677.7" y="94.7" fill="#000080" font-size="6">12pF</text>
<circle cx="711.5" cy="51.5" r="1" fill="#000080"/>
<circle cx="711.5" cy="84.5" r="1" fill="#000080"/>
<path d="M711.5 51.45L711.5 64.85" stroke="#000000" stroke-width="1"/>
<path d="M711.5 69.9L711.5 84.5" stroke="#000000" stroke-width="1"/>
<rect x="706.5" y="64.5" width="10" height="5" fill="#fffff4" stroke="#0000ff" stroke-width="1.2"/>
<text x="709" y="58.45" fill="#000000" font-size="4.5" transform="rotate(-90 709 58.45)">2</text>
<text x="709" y="78.5" fill="#000000" font-size="4.5" transform="rotate(-90 709 78.5)">1</text>
<text x="717" y="68.05" fill="#000080" font-size="6">S_Y1</text>
<text x="717" y="74.45" fill="#000080" font-size="6">8MHz</text>
<text x="724.1" y="49" fill="#800000" font-size="6">OSCIN</text>
<text x="724.1" y="81.9" fill="#800000" font-size="6">OSCOUT</text>
<path d="M665 123.5L658.7 123.5" stroke="#800000" stroke-width="1"/>
<path d="M658.5 116.6L658.5 130" stroke="#800000" stroke-width="1"/>
<path d="M656.5 118.4L656.5 128.2" stroke="#800000" stroke-width="1"/>
<path d="M654.5 120.3L654.5 126.3" stroke="#800000" stroke-width="1"/>
<path d="M652.5 122.6L652.5 124" stroke="#800000" stroke-width="1"/>
<text x="650.35" y="125.2" fill="#800000" font-size="6" text-anchor="end">GND</text>
<path d="M665 123.5L670.7 123.5" stroke="#000080" stroke-width="1" fill="none"/>
<path d="M670.7 123.5L680.4 123.5" stroke="#000000" stroke-width="1"/>
<path d="M680.5 117.6L680.5 129" stroke="#0000ff" stroke-width="1.1"/>
<path d="M683.5 117.6L683.5 129" stroke="#0000ff" stroke-width="1.1"/>
<path d="M683.6 123.5L690.8 123.5" stroke="#000000" stroke-width="1"/>
<path d="M690.8 123.5L750.8 123.5" stroke="#000080" stroke-width="1" fill="none"/>
<text x="677" y="113.9" fill="#000080" font-size="6">S_C6</text>
<text x="677.7" y="133.5" fill="#000080" font-size="6">12pF</text>
<path d="M665 156.5L658.7 156.5" stroke="#800000" stroke-width="1"/>
<path d="M658.5 149.6L658.5 163" stroke="#800000" stroke-width="1"/>
<path d="M656.5 151.4L656.5 161.2" stroke="#800000" stroke-width="1"/>
<path d="M654.5 153.3L654.5 159.3" stroke="#800000" stroke-width="1"/>
<path d="M652.5 155.6L652.5 157" stroke="#800000" stroke-width="1"/>
<text x="650.35" y="158.2" fill="#800000" font-size="6" text-anchor="end">GND</text>
<path d="M665 156.5L670.7 156.5" stroke="#000080" stroke-width="1" fill="none"/>
<path d="M670.7 156.5L680.4 156.5" stroke="#000000" stroke-width="1"/>
<path d="M680.5 150.6L680.5 162" stroke="#0000ff" stroke-width="1.1"/>
<path d="M683.5 150.6L683.5 162" stroke="#0000ff" stroke-width="1.1"/>
<path d="M683.6 156.5L690.8 156.5" stroke="#000000" stroke-width="1"/>
<path d="M690.8 156.5L750.8 156.5" stroke="#000080" stroke-width="1" fill="none"/>
<text x="677" y="146.9" fill="#000080" font-size="6">S_C7</text>
<text x="677.7" y="166.5" fill="#000080" font-size="6">12pF</text>
<circle cx="711.5" cy="123.5" r="1" fill="#000080"/>
<circle cx="711.5" cy="156.5" r="1" fill="#000080"/>
<path d="M711.5 123.3L711.5 136.7" stroke="#000000" stroke-width="1"/>
<path d="M711.5 141.7L711.5 156.3" stroke="#000000" stroke-width="1"/>
<rect x="706.5" y="136.5" width="10" height="5" fill="#fffff4" stroke="#0000ff" stroke-width="1.2"/>
<text x="709" y="130.3" fill="#000000" font-size="4.5" transform="rotate(-90 709 130.3)">2</text>
<text x="709" y="150.3" fill="#000000" font-size="4.5" transform="rotate(-90 709 150.3)">1</text>
<text x="717" y="139.9" fill="#000080" font-size="6">S_Y2</text>
<text x="717" y="146.3" fill="#000080" font-size="6">32.768KHz</text>
<text x="724.1" y="120.8" fill="#800000" font-size="6">PC14</text>
<text x="724.1" y="153.7" fill="#800000" font-size="6">PC15</text>
<text class="cj" x="689" y="188" font-size="8.8">晶振电路</text>
<path d="M804.5 64L804.5 57.5" stroke="#800000" stroke-width="1"/>
<path d="M801.1 57.5L807.7 57.5" stroke="#800000" stroke-width="1"/>
<text x="804.4" y="55.1" fill="#800000" font-size="6" text-anchor="middle">VCC_3V3</text>
<path d="M804.5 64L804.5 71" stroke="#000000" stroke-width="1"/>
<path d="M804.4 71L805.7 71.98L803.1 73.95L805.7 75.92L803.1 77.88L805.7 79.85L803.1 81.82L804.4 82.8" stroke="#0000ff" stroke-width="1" fill="none"/>
<path d="M804.5 82.8L804.5 90" stroke="#000000" stroke-width="1"/>
<path d="M804.5 90L804.5 97" stroke="#000080" stroke-width="1" fill="none"/>
<path d="M804.5 97L804.5 103.7" stroke="#000000" stroke-width="1"/>
<path d="M797.8 103.7L811 103.7L804.4 110.3Z" stroke="#0000ff" stroke-width="0.4" fill="#0000ff"/>
<path d="M797.8 110.8L811 110.8" stroke="#0000ff" stroke-width="1.5"/>
<path d="M804.5 111.5L804.5 117.5" stroke="#000000" stroke-width="1"/>
<path d="M804.5 117.5L804.5 142.6" stroke="#000080" stroke-width="1" fill="none"/>
<text x="805.5" y="74.2" fill="#000080" font-size="6">S_R3</text>
<text x="806.5" y="81.3" fill="#000080" font-size="6">1K</text>
<text x="804.4" y="101.3" fill="#000080" font-size="6">S_D2</text>
<text x="804.4" y="121.8" fill="#000080" font-size="6">LED</text>
<path d="M813.7 112.2L816.5 115" stroke="#0000ff" stroke-width="0.9" fill="none"/>
<path d="M816.9 113L816.9 115.4L814.5 115.4Z" stroke="#0000ff" stroke-width="0.3" fill="#0000ff"/>
<path d="M813.1 117.4L815.9 120.2" stroke="#0000ff" stroke-width="0.9" fill="none"/>
<path d="M816.3 118.2L816.3 120.6L813.9 120.6Z" stroke="#0000ff" stroke-width="0.3" fill="#0000ff"/>
<text x="809.2" y="142.4" fill="#800000" font-size="6" transform="rotate(-90 809.2 142.4)">PC13</text>
<text class="cj" x="774" y="161.5" font-size="8.95">程序运行指示灯</text>
<rect x="896.5" y="44.5" width="39" height="138" fill="#ffffb0" stroke="#800000" stroke-width="1"/>
<text x="896.3" y="42.4" fill="#000080" font-size="6">S_ST1</text>
<text x="897" y="187.3" fill="#000080" font-size="6">IO</text>
<path d="M883.6 51.5L896.8 51.5" stroke="#000000" stroke-width="1"/>
<text x="891.3" y="49.5" fill="#000000" font-size="6" text-anchor="end">1</text>
<text x="900.6" y="53" fill="#000000" font-size="6">1</text>
<path d="M935.6 51.5L949 51.5" stroke="#000000" stroke-width="1"/>
<text x="941.2" y="49.5" fill="#000000" font-size="6">40</text>
<text x="931" y="53" fill="#000000" font-size="6" text-anchor="end">40</text>
<path d="M949 51.5L976.5 51.5" stroke="#000080" stroke-width="1" fill="none"/>
<text x="956" y="49.8" fill="#800000" font-size="6">PB12</text>
<path d="M883.6 57.5L896.8 57.5" stroke="#000000" stroke-width="1"/>
<text x="891.3" y="56.11" fill="#000000" font-size="6" text-anchor="end">2</text>
<text x="900.6" y="59.61" fill="#000000" font-size="6">2</text>
<path d="M935.6 57.5L949 57.5" stroke="#000000" stroke-width="1"/>
<text x="941.2" y="56.11" fill="#000000" font-size="6">39</text>
<text x="931" y="59.61" fill="#000000" font-size="6" text-anchor="end">39</text>
<path d="M949 57.5L976.5 57.5" stroke="#000080" stroke-width="1" fill="none"/>
<text x="956" y="56.41" fill="#800000" font-size="6">PB13</text>
<path d="M883.6 64.5L896.8 64.5" stroke="#000000" stroke-width="1"/>
<text x="891.3" y="62.72" fill="#000000" font-size="6" text-anchor="end">3</text>
<text x="900.6" y="66.22" fill="#000000" font-size="6">3</text>
<path d="M935.6 64.5L949 64.5" stroke="#000000" stroke-width="1"/>
<text x="941.2" y="62.72" fill="#000000" font-size="6">38</text>
<text x="931" y="66.22" fill="#000000" font-size="6" text-anchor="end">38</text>
<path d="M949 64.5L976.5 64.5" stroke="#000080" stroke-width="1" fill="none"/>
<text x="956" y="63.02" fill="#800000" font-size="6">PB14</text>
<path d="M883.6 70.5L896.8 70.5" stroke="#000000" stroke-width="1"/>
<text x="891.3" y="69.33" fill="#000000" font-size="6" text-anchor="end">4</text>
<text x="900.6" y="72.83" fill="#000000" font-size="6">4</text>
<path d="M935.6 70.5L949 70.5" stroke="#000000" stroke-width="1"/>
<text x="941.2" y="69.33" fill="#000000" font-size="6">37</text>
<text x="931" y="72.83" fill="#000000" font-size="6" text-anchor="end">37</text>
<path d="M858.3 70.5L883.6 70.5" stroke="#000080" stroke-width="1" fill="none"/>
<text x="863" y="69.63" fill="#800000" font-size="6">RST</text>
<path d="M949 70.5L976.5 70.5" stroke="#000080" stroke-width="1" fill="none"/>
<text x="956" y="69.63" fill="#800000" font-size="6">PB15</text>
<path d="M883.6 77.5L896.8 77.5" stroke="#000000" stroke-width="1"/>
<text x="891.3" y="75.94" fill="#000000" font-size="6" text-anchor="end">5</text>
<text x="900.6" y="79.44" fill="#000000" font-size="6">5</text>
<path d="M935.6 77.5L949 77.5" stroke="#000000" stroke-width="1"/>
<text x="941.2" y="75.94" fill="#000000" font-size="6">36</text>
<text x="931" y="79.44" fill="#000000" font-size="6" text-anchor="end">36</text>
<path d="M858.3 77.5L883.6 77.5" stroke="#000080" stroke-width="1" fill="none"/>
<text x="863" y="76.24" fill="#800000" font-size="6">PB11</text>
<path d="M949 77.5L976.5 77.5" stroke="#000080" stroke-width="1" fill="none"/>
<text x="956" y="76.24" fill="#800000" font-size="6">PA8</text>
<path d="M883.6 84.5L896.8 84.5" stroke="#000000" stroke-width="1"/>
<text x="891.3" y="82.55" fill="#000000" font-size="6" text-anchor="end">6</text>
<text x="900.6" y="86.05" fill="#000000" font-size="6">6</text>
<path d="M935.6 84.5L949 84.5" stroke="#000000" stroke-width="1"/>
<text x="941.2" y="82.55" fill="#000000" font-size="6">35</text>
<text x="931" y="86.05" fill="#000000" font-size="6" text-anchor="end">35</text>
<path d="M858.3 84.5L883.6 84.5" stroke="#000080" stroke-width="1" fill="none"/>
<text x="863" y="82.85" fill="#800000" font-size="6">PB10</text>
<path d="M949 84.5L976.5 84.5" stroke="#000080" stroke-width="1" fill="none"/>
<text x="956" y="82.85" fill="#800000" font-size="6">PA9</text>
<path d="M883.6 90.5L896.8 90.5" stroke="#000000" stroke-width="1"/>
<text x="891.3" y="89.16" fill="#000000" font-size="6" text-anchor="end">7</text>
<text x="900.6" y="92.66" fill="#000000" font-size="6">7</text>
<path d="M935.6 90.5L949 90.5" stroke="#000000" stroke-width="1"/>
<text x="941.2" y="89.16" fill="#000000" font-size="6">34</text>
<text x="931" y="92.66" fill="#000000" font-size="6" text-anchor="end">34</text>
<path d="M858.3 90.5L883.6 90.5" stroke="#000080" stroke-width="1" fill="none"/>
<text x="863" y="89.46" fill="#800000" font-size="6">PB1</text>
<path d="M949 90.5L976.5 90.5" stroke="#000080" stroke-width="1" fill="none"/>
<text x="956" y="89.46" fill="#800000" font-size="6">PA10</text>
<path d="M883.6 97.5L896.8 97.5" stroke="#000000" stroke-width="1"/>
<text x="891.3" y="95.77" fill="#000000" font-size="6" text-anchor="end">8</text>
<text x="900.6" y="99.27" fill="#000000" font-size="6">8</text>
<path d="M935.6 97.5L949 97.5" stroke="#000000" stroke-width="1"/>
<text x="941.2" y="95.77" fill="#000000" font-size="6">33</text>
<text x="931" y="99.27" fill="#000000" font-size="6" text-anchor="end">33</text>
<path d="M858.3 97.5L883.6 97.5" stroke="#000080" stroke-width="1" fill="none"/>
<text x="863" y="96.07" fill="#800000" font-size="6">PB0</text>
<path d="M949 97.5L976.5 97.5" stroke="#000080" stroke-width="1" fill="none"/>
<text x="956" y="96.07" fill="#800000" font-size="6">PA11</text>
<path d="M883.6 103.5L896.8 103.5" stroke="#000000" stroke-width="1"/>
<text x="891.3" y="102.38" fill="#000000" font-size="6" text-anchor="end">9</text>
<text x="900.6" y="105.88" fill="#000000" font-size="6">9</text>
<path d="M935.6 103.5L949 103.5" stroke="#000000" stroke-width="1"/>
<text x="941.2" y="102.38" fill="#000000" font-size="6">32</text>
<text x="931" y="105.88" fill="#000000" font-size="6" text-anchor="end">32</text>
<path d="M858.3 103.5L883.6 103.5" stroke="#000080" stroke-width="1" fill="none"/>
<text x="863" y="102.68" fill="#800000" font-size="6">PA7</text>
<path d="M949 103.5L976.5 103.5" stroke="#000080" stroke-width="1" fill="none"/>
<text x="956" y="102.68" fill="#800000" font-size="6">PA12</text>
<path d="M883.6 110.5L896.8 110.5" stroke="#000000" stroke-width="1"/>
<text x="891.3" y="108.99" fill="#000000" font-size="6" text-anchor="end">10</text>
<text x="900.6" y="112.49" fill="#000000" font-size="6">10</text>
<path d="M935.6 110.5L949 110.5" stroke="#000000" stroke-width="1"/>
<text x="941.2" y="108.99" fill="#000000" font-size="6">31</text>
<text x="931" y="112.49" fill="#000000" font-size="6" text-anchor="end">31</text>
<path d="M858.3 110.5L883.6 110.5" stroke="#000080" stroke-width="1" fill="none"/>
<text x="863" y="109.29" fill="#800000" font-size="6">PA6</text>
<path d="M949 110.5L976.5 110.5" stroke="#000080" stroke-width="1" fill="none"/>
<text x="956" y="109.29" fill="#800000" font-size="6">PA15</text>
<path d="M883.6 117.5L896.8 117.5" stroke="#000000" stroke-width="1"/>
<text x="891.3" y="115.6" fill="#000000" font-size="6" text-anchor="end">11</text>
<text x="900.6" y="119.1" fill="#000000" font-size="6">11</text>
<path d="M935.6 117.5L949 117.5" stroke="#000000" stroke-width="1"/>
<text x="941.2" y="115.6" fill="#000000" font-size="6">30</text>
<text x="931" y="119.1" fill="#000000" font-size="6" text-anchor="end">30</text>
<path d="M858.3 117.5L883.6 117.5" stroke="#000080" stroke-width="1" fill="none"/>
<text x="863" y="115.9" fill="#800000" font-size="6">PA5</text>
<path d="M949 117.5L976.5 117.5" stroke="#000080" stroke-width="1" fill="none"/>
<text x="956" y="115.9" fill="#800000" font-size="6">PB3</text>
<path d="M883.6 123.5L896.8 123.5" stroke="#000000" stroke-width="1"/>
<text x="891.3" y="122.21" fill="#000000" font-size="6" text-anchor="end">12</text>
<text x="900.6" y="125.71" fill="#000000" font-size="6">12</text>
<path d="M935.6 123.5L949 123.5" stroke="#000000" stroke-width="1"/>
<text x="941.2" y="122.21" fill="#000000" font-size="6">29</text>
<text x="931" y="125.71" fill="#000000" font-size="6" text-anchor="end">29</text>
<path d="M858.3 123.5L883.6 123.5" stroke="#000080" stroke-width="1" fill="none"/>
<text x="863" y="122.51" fill="#800000" font-size="6">PA4</text>
<path d="M949 123.5L976.5 123.5" stroke="#000080" stroke-width="1" fill="none"/>
<text x="956" y="122.51" fill="#800000" font-size="6">PB4</text>
<path d="M883.6 130.5L896.8 130.5" stroke="#000000" stroke-width="1"/>
<text x="891.3" y="128.82" fill="#000000" font-size="6" text-anchor="end">13</text>
<text x="900.6" y="132.32" fill="#000000" font-size="6">13</text>
<path d="M935.6 130.5L949 130.5" stroke="#000000" stroke-width="1"/>
<text x="941.2" y="128.82" fill="#000000" font-size="6">28</text>
<text x="931" y="132.32" fill="#000000" font-size="6" text-anchor="end">28</text>
<path d="M858.3 130.5L883.6 130.5" stroke="#000080" stroke-width="1" fill="none"/>
<text x="863" y="129.12" fill="#800000" font-size="6">PA3</text>
<path d="M949 130.5L976.5 130.5" stroke="#000080" stroke-width="1" fill="none"/>
<text x="956" y="129.12" fill="#800000" font-size="6">PB5</text>
<path d="M883.6 136.5L896.8 136.5" stroke="#000000" stroke-width="1"/>
<text x="891.3" y="135.43" fill="#000000" font-size="6" text-anchor="end">14</text>
<text x="900.6" y="138.93" fill="#000000" font-size="6">14</text>
<path d="M935.6 136.5L949 136.5" stroke="#000000" stroke-width="1"/>
<text x="941.2" y="135.43" fill="#000000" font-size="6">27</text>
<text x="931" y="138.93" fill="#000000" font-size="6" text-anchor="end">27</text>
<path d="M858.3 136.5L883.6 136.5" stroke="#000080" stroke-width="1" fill="none"/>
<text x="863" y="135.73" fill="#800000" font-size="6">PA2</text>
<path d="M949 136.5L976.5 136.5" stroke="#000080" stroke-width="1" fill="none"/>
<text x="956" y="135.73" fill="#800000" font-size="6">PB6</text>
<path d="M883.6 143.5L896.8 143.5" stroke="#000000" stroke-width="1"/>
<text x="891.3" y="142.04" fill="#000000" font-size="6" text-anchor="end">15</text>
<text x="900.6" y="145.54" fill="#000000" font-size="6">15</text>
<path d="M935.6 143.5L949 143.5" stroke="#000000" stroke-width="1"/>
<text x="941.2" y="142.04" fill="#000000" font-size="6">26</text>
<text x="931" y="145.54" fill="#000000" font-size="6" text-anchor="end">26</text>
<path d="M858.3 143.5L883.6 143.5" stroke="#000080" stroke-width="1" fill="none"/>
<text x="863" y="142.34" fill="#800000" font-size="6">PA1</text>
<path d="M949 143.5L976.5 143.5" stroke="#000080" stroke-width="1" fill="none"/>
<text x="956" y="142.34" fill="#800000" font-size="6">PB7</text>
<path d="M883.6 150.5L896.8 150.5" stroke="#000000" stroke-width="1"/>
<text x="891.3" y="148.65" fill="#000000" font-size="6" text-anchor="end">16</text>
<text x="900.6" y="152.15" fill="#000000" font-size="6">16</text>
<path d="M935.6 150.5L949 150.5" stroke="#000000" stroke-width="1"/>
<text x="941.2" y="148.65" fill="#000000" font-size="6">25</text>
<text x="931" y="152.15" fill="#000000" font-size="6" text-anchor="end">25</text>
<path d="M858.3 150.5L883.6 150.5" stroke="#000080" stroke-width="1" fill="none"/>
<text x="863" y="148.95" fill="#800000" font-size="6">PA0</text>
<path d="M949 150.5L976.5 150.5" stroke="#000080" stroke-width="1" fill="none"/>
<text x="956" y="148.95" fill="#800000" font-size="6">PB8</text>
<path d="M883.6 156.5L896.8 156.5" stroke="#000000" stroke-width="1"/>
<text x="891.3" y="155.26" fill="#000000" font-size="6" text-anchor="end">17</text>
<text x="900.6" y="158.76" fill="#000000" font-size="6">17</text>
<path d="M935.6 156.5L949 156.5" stroke="#000000" stroke-width="1"/>
<text x="941.2" y="155.26" fill="#000000" font-size="6">24</text>
<text x="931" y="158.76" fill="#000000" font-size="6" text-anchor="end">24</text>
<path d="M858.3 156.5L883.6 156.5" stroke="#000080" stroke-width="1" fill="none"/>
<text x="863" y="155.56" fill="#800000" font-size="6">PC15</text>
<path d="M949 156.5L976.5 156.5" stroke="#000080" stroke-width="1" fill="none"/>
<text x="956" y="155.56" fill="#800000" font-size="6">PB9</text>
<path d="M883.6 163.5L896.8 163.5" stroke="#000000" stroke-width="1"/>
<text x="891.3" y="161.87" fill="#000000" font-size="6" text-anchor="end">18</text>
<text x="900.6" y="165.37" fill="#000000" font-size="6">18</text>
<path d="M935.6 163.5L949 163.5" stroke="#000000" stroke-width="1"/>
<text x="941.2" y="161.87" fill="#000000" font-size="6">23</text>
<text x="931" y="165.37" fill="#000000" font-size="6" text-anchor="end">23</text>
<path d="M858.3 163.5L883.6 163.5" stroke="#000080" stroke-width="1" fill="none"/>
<text x="863" y="162.17" fill="#800000" font-size="6">PC14</text>
<path d="M883.6 169.5L896.8 169.5" stroke="#000000" stroke-width="1"/>
<text x="891.3" y="168.48" fill="#000000" font-size="6" text-anchor="end">19</text>
<text x="900.6" y="171.98" fill="#000000" font-size="6">19</text>
<path d="M935.6 169.5L949 169.5" stroke="#000000" stroke-width="1"/>
<text x="941.2" y="168.48" fill="#000000" font-size="6">22</text>
<text x="931" y="171.98" fill="#000000" font-size="6" text-anchor="end">22</text>
<path d="M858.3 169.5L883.6 169.5" stroke="#000080" stroke-width="1" fill="none"/>
<text x="863" y="168.78" fill="#800000" font-size="6">PC13</text>
<path d="M883.6 176.5L896.8 176.5" stroke="#000000" stroke-width="1"/>
<text x="891.3" y="175.09" fill="#000000" font-size="6" text-anchor="end">20</text>
<text x="900.6" y="178.59" fill="#000000" font-size="6">20</text>
<path d="M935.6 176.5L949 176.5" stroke="#000000" stroke-width="1"/>
<text x="941.2" y="175.09" fill="#000000" font-size="6">21</text>
<text x="931" y="178.59" fill="#000000" font-size="6" text-anchor="end">21</text>
<path d="M858.3 176.5L883.6 176.5" stroke="#000080" stroke-width="1" fill="none"/>
<text x="863" y="175.39" fill="#800000" font-size="6">VBAT</text>
<path d="M876.5 44L876.5 37.7" stroke="#800000" stroke-width="1"/>
<path d="M869.9 37.5L883.3 37.5" stroke="#800000" stroke-width="1"/>
<path d="M871.7 35.5L881.5 35.5" stroke="#800000" stroke-width="1"/>
<path d="M873.6 33.5L879.6 33.5" stroke="#800000" stroke-width="1"/>
<path d="M875.9 31.5L877.3 31.5" stroke="#800000" stroke-width="1"/>
<text x="876.6" y="30.05" fill="#800000" font-size="6" text-anchor="middle">GND</text>
<path d="M876.5 44L876.5 57.5L883.6 57.5" stroke="#000080" stroke-width="1" fill="none"/>
<path d="M876.6 51.5L883.6 51.5" stroke="#000080" stroke-width="1" fill="none"/>
<circle cx="876.5" cy="51.5" r="1" fill="#000080"/>
<path d="M863.5 58L863.5 51.5" stroke="#800000" stroke-width="1"/>
<path d="M860.3 51.5L866.3 51.5" stroke="#800000" stroke-width="1"/>
<text x="863.3" y="49.1" fill="#800000" font-size="6" text-anchor="middle">VCC_3V3</text>
<path d="M863.5 58L863.5 64.5L883.6 64.5" stroke="#000080" stroke-width="1" fill="none"/>
<path d="M949 163.5L971 163.5" stroke="#000080" stroke-width="1" fill="none"/>
<path d="M971 163.5L976.8 163.5" stroke="#800000" stroke-width="1"/>
<path d="M976.5 160.27L976.5 166.47" stroke="#800000" stroke-width="1"/>
<text x="978" y="165.27" fill="#800000" font-size="6">VCC</text>
<path d="M949 169.5L976.5 169.5L976.5 172.5" stroke="#000080" stroke-width="1" fill="none"/>
<path d="M976.5 172.5L976.5 176.6" stroke="#800000" stroke-width="1"/>
<path d="M970.1 176.5L983.5 176.5" stroke="#800000" stroke-width="1"/>
<path d="M971.9 178.5L981.7 178.5" stroke="#800000" stroke-width="1"/>
<path d="M973.8 180.5L979.8 180.5" stroke="#800000" stroke-width="1"/>
<path d="M976.1 182.5L977.5 182.5" stroke="#800000" stroke-width="1"/>
<text x="976.8" y="187.85" fill="#800000" font-size="6" text-anchor="middle">GND</text>
<path d="M949 176.5L956.5 176.5L956.5 182.6" stroke="#000080" stroke-width="1" fill="none"/>
<path d="M956.5 182.6L956.5 189.3" stroke="#800000" stroke-width="1"/>
<path d="M952.9 189.5L960.9 189.5" stroke="#800000" stroke-width="1"/>
<text x="956.9" y="195.1" fill="#800000" font-size="6" text-anchor="middle">3.3V</text>
<text x="896.8" y="214.2" fill="#000080" font-size="8.3" font-weight="bold" fill-opacity="0.75" textLength="8.6" lengthAdjust="spacingAndGlyphs">IO</text>
<text class="cj" x="905.6" y="214.6" font-size="8.5">拓展口</text>
<path d="M37.6 282.5L30.2 282.5" stroke="#800000" stroke-width="1"/>
<path d="M30.5 279.4L30.5 284.8" stroke="#800000" stroke-width="1"/>
<text x="29" y="284" fill="#800000" font-size="6" text-anchor="end">VCC_3V3</text>
<path d="M37.6 282.5L44 282.5" stroke="#000080" stroke-width="1" fill="none"/>
<path d="M44 282.5L50.5 282.5" stroke="#000000" stroke-width="1"/>
<circle cx="51.8" cy="282.1" r="1.35" stroke="#0000ff" fill="#fff" stroke-width="0.75"/>
<circle cx="68.1" cy="282.1" r="1.35" stroke="#0000ff" fill="#fff" stroke-width="0.75"/>
<path d="M50 278.5L71.1 278.5" stroke="#0000ff" stroke-width="1.2"/>
<rect x="57.15" y="275.5" width="5.6" height="2.6" fill="#0000ff"/>
<path d="M69.5 282.5L76.4 282.5" stroke="#000000" stroke-width="1"/>
<path d="M76.5 282.1L76.5 302.4" stroke="#000080" stroke-width="1" fill="none"/>
<circle cx="76.5" cy="302.5" r="1.2" fill="#000080"/>
<text x="49.8" y="273" fill="#000080" font-size="6">S_K2</text>
<text x="49.8" y="288.6" fill="#000080" font-size="6">KEY</text>
<path d="M30.2 302.5L44 302.5" stroke="#000080" stroke-width="1" fill="none"/>
<path d="M44 302.5L52.4 302.5" stroke="#000000" stroke-width="1"/>
<path d="M52.4 302.4L53.25 301.1L54.95 303.7L56.65 301.1L58.35 303.7L60.05 301.1L61.75 303.7L62.6 302.4" stroke="#0000ff" stroke-width="1" fill="none"/>
<path d="M62.6 302.5L70 302.5" stroke="#000000" stroke-width="1"/>
<path d="M70 302.5L109.1 302.5" stroke="#000080" stroke-width="1" fill="none"/>
<text x="49.8" y="298.1" fill="#000080" font-size="6">S_R4</text>
<text x="49.8" y="308.6" fill="#000080" font-size="6">10K</text>
<text x="83" y="300" fill="#800000" font-size="6">BOOT0</text>
<path d="M30.2 335.5L44 335.5" stroke="#000080" stroke-width="1" fill="none"/>
<path d="M44 335.5L52.4 335.5" stroke="#000000" stroke-width="1"/>
<path d="M52.4 335.1L53.25 333.8L54.95 336.4L56.65 333.8L58.35 336.4L60.05 333.8L61.75 336.4L62.6 335.1" stroke="#0000ff" stroke-width="1" fill="none"/>
<path d="M62.6 335.5L70 335.5" stroke="#000000" stroke-width="1"/>
<path d="M70 335.5L109.1 335.5" stroke="#000080" stroke-width="1" fill="none"/>
<text x="49.8" y="330.8" fill="#000080" font-size="6">S_R5</text>
<text x="49.8" y="341.3" fill="#000080" font-size="6">10K</text>
<text x="83" y="332.7" fill="#800000" font-size="6">BOOT1</text>
<path d="M30.5 302.4L30.5 341.6" stroke="#000080" stroke-width="1" fill="none"/>
<circle cx="30.5" cy="335.5" r="1.1" fill="#000080"/>
<path d="M30.5 341.6L30.5 348" stroke="#800000" stroke-width="1"/>
<path d="M23.5 348.5L36.9 348.5" stroke="#800000" stroke-width="1"/>
<path d="M25.3 349.5L35.1 349.5" stroke="#800000" stroke-width="1"/>
<path d="M27.2 351.5L33.2 351.5" stroke="#800000" stroke-width="1"/>
<path d="M29.5 353.5L30.9 353.5" stroke="#800000" stroke-width="1"/>
<text x="30.2" y="359.25" fill="#800000" font-size="6" text-anchor="middle">GND</text>
<text x="50.2" y="373" fill="#000080" font-size="8.3" font-weight="bold" fill-opacity="0.75" textLength="22.6" lengthAdjust="spacingAndGlyphs">BOOT</text>
<text class="cj" x="74" y="373.4" font-size="8.4">电路</text>
<rect x="142.5" y="282.5" width="26" height="52" fill="#ffffb0" stroke="#800000" stroke-width="1"/>
<text x="142.3" y="280.3" fill="#000080" font-size="6">S_H1</text>
<text x="142.3" y="339.3" fill="#000080" font-size="6">Link</text>
<path d="M168.7 289.5L181.8 289.5" stroke="#000000" stroke-width="1"/>
<text x="174.3" y="287.1" fill="#000000" font-size="6">1</text>
<text x="164.3" y="291" fill="#000000" font-size="6" text-anchor="end">3.3V</text>
<path d="M181.8 289.5L188.8 289.5" stroke="#000080" stroke-width="1" fill="none"/>
<path d="M188.8 289.5L195.5 289.5" stroke="#800000" stroke-width="1"/>
<path d="M195.5 286.2L195.5 292.4" stroke="#800000" stroke-width="1"/>
<text x="196.7" y="291.2" fill="#800000" font-size="6">VCC_3V3</text>
<path d="M168.7 302.5L181.8 302.5" stroke="#000000" stroke-width="1"/>
<text x="174.3" y="300" fill="#000000" font-size="6">2</text>
<text x="164.3" y="303.9" fill="#000000" font-size="6" text-anchor="end">SWIO</text>
<path d="M181.8 302.5L208.7 302.5" stroke="#000080" stroke-width="1" fill="none"/>
<text x="188.7" y="300.2" fill="#800000" font-size="6">SWIO</text>
<path d="M168.7 315.5L181.8 315.5" stroke="#000000" stroke-width="1"/>
<text x="174.3" y="313.2" fill="#000000" font-size="6">3</text>
<text x="164.3" y="317.1" fill="#000000" font-size="6" text-anchor="end">SWCLK</text>
<path d="M181.8 315.5L208.7 315.5" stroke="#000080" stroke-width="1" fill="none"/>
<text x="188.7" y="313.4" fill="#800000" font-size="6">SWCLK</text>
<path d="M168.7 328.5L181.8 328.5" stroke="#000000" stroke-width="1"/>
<text x="174.3" y="326.2" fill="#000000" font-size="6">4</text>
<text x="164.3" y="330.1" fill="#000000" font-size="6" text-anchor="end">GND</text>
<path d="M181.8 328.5L188.8 328.5" stroke="#000080" stroke-width="1" fill="none"/>
<path d="M188.8 328.5L195.5 328.5" stroke="#800000" stroke-width="1"/>
<path d="M195.5 321.7L195.5 335.1" stroke="#800000" stroke-width="1"/>
<path d="M197.5 323.5L197.5 333.3" stroke="#800000" stroke-width="1"/>
<path d="M199.5 325.4L199.5 331.4" stroke="#800000" stroke-width="1"/>
<path d="M201.5 327.7L201.5 329.1" stroke="#800000" stroke-width="1"/>
<text x="203.25" y="330.3" fill="#800000" font-size="6">GND</text>
<text x="149" y="359.7" fill="#000080" font-size="8.2" font-weight="bold" fill-opacity="0.75" textLength="35" lengthAdjust="spacingAndGlyphs">J-Link OB</text>
<text class="cj" x="185" y="360" font-size="8.6">接口</text>
<path d="M248.5 302L248.5 295.5L328.5 295.5L328.5 302" stroke="#000080" stroke-width="1" fill="none"/>
<path d="M248.5 322.3L248.5 328.5L328.5 328.5L328.5 322.3" stroke="#000080" stroke-width="1" fill="none"/>
<path d="M248.5 302L248.5 308.9" stroke="#000000" stroke-width="1"/>
<path d="M242.6 310.5L254.4 310.5" stroke="#0000ff" stroke-width="1.1"/>
<path d="M242.6 313.5L254.4 313.5" stroke="#0000ff" stroke-width="1.1"/>
<path d="M248.5 308.85L248.5 310.45" stroke="#0000ff" stroke-width="1"/>
<path d="M248.5 313.25L248.5 314.85" stroke="#0000ff" stroke-width="1"/>
<path d="M248.5 314.8L248.5 322.3" stroke="#000000" stroke-width="1"/>
<text x="251.5" y="306.6" fill="#000080" font-size="6">S_C10</text>
<text x="251.5" y="319.8" fill="#000080" font-size="6">100nF</text>
<path d="M274.5 295.4L274.5 302" stroke="#000080" stroke-width="1" fill="none"/>
<path d="M274.5 322.3L274.5 328.3" stroke="#000080" stroke-width="1" fill="none"/>
<circle cx="274.5" cy="295.5" r="1.1" fill="#000080"/>
<circle cx="274.5" cy="328.5" r="1.1" fill="#000080"/>
<path d="M274.5 302L274.5 308.9" stroke="#000000" stroke-width="1"/>
<path d="M269 310.5L280.8 310.5" stroke="#0000ff" stroke-width="1.1"/>
<path d="M269 313.5L280.8 313.5" stroke="#0000ff" stroke-width="1.1"/>
<path d="M274.5 308.85L274.5 310.45" stroke="#0000ff" stroke-width="1"/>
<path d="M274.5 313.25L274.5 314.85" stroke="#0000ff" stroke-width="1"/>
<path d="M274.5 314.8L274.5 322.3" stroke="#000000" stroke-width="1"/>
<text x="277.9" y="306.6" fill="#000080" font-size="6">S_C11</text>
<text x="277.9" y="319.8" fill="#000080" font-size="6">100nF</text>
<path d="M301.5 295.4L301.5 302" stroke="#000080" stroke-width="1" fill="none"/>
<path d="M301.5 322.3L301.5 328.3" stroke="#000080" stroke-width="1" fill="none"/>
<circle cx="301.5" cy="295.5" r="1.1" fill="#000080"/>
<circle cx="301.5" cy="328.5" r="1.1" fill="#000080"/>
<path d="M301.5 302L301.5 308.9" stroke="#000000" stroke-width="1"/>
<path d="M295.3 310.5L307.1 310.5" stroke="#0000ff" stroke-width="1.1"/>
<path d="M295.3 313.5L307.1 313.5" stroke="#0000ff" stroke-width="1.1"/>
<path d="M301.5 308.85L301.5 310.45" stroke="#0000ff" stroke-width="1"/>
<path d="M301.5 313.25L301.5 314.85" stroke="#0000ff" stroke-width="1"/>
<path d="M301.5 314.8L301.5 322.3" stroke="#000000" stroke-width="1"/>
<text x="304.2" y="306.6" fill="#000080" font-size="6">S_C12</text>
<text x="304.2" y="319.8" fill="#000080" font-size="6">100nF</text>
<path d="M328.5 302L328.5 308.9" stroke="#000000" stroke-width="1"/>
<path d="M322.8 310.5L334.6 310.5" stroke="#0000ff" stroke-width="1.1"/>
<path d="M322.8 313.5L334.6 313.5" stroke="#0000ff" stroke-width="1.1"/>
<path d="M328.5 308.85L328.5 310.45" stroke="#0000ff" stroke-width="1"/>
<path d="M328.5 313.25L328.5 314.85" stroke="#0000ff" stroke-width="1"/>
<path d="M328.5 314.8L328.5 322.3" stroke="#000000" stroke-width="1"/>
<text x="331.7" y="306.6" fill="#000080" font-size="6">S_C13</text>
<text x="331.7" y="319.8" fill="#000080" font-size="6">100nF</text>
<path d="M288.5 289L288.5 282.4" stroke="#800000" stroke-width="1"/>
<path d="M284.9 282.5L291.1 282.5" stroke="#800000" stroke-width="1"/>
<text x="288" y="280" fill="#800000" font-size="6" text-anchor="middle">VCC_3V3</text>
<path d="M288.5 289L288.5 295.4" stroke="#000080" stroke-width="1" fill="none"/>
<circle cx="288.5" cy="295.5" r="1.1" fill="#000080"/>
<circle cx="288.5" cy="328.5" r="1.1" fill="#000080"/>
<path d="M288.5 328.3L288.5 335" stroke="#000080" stroke-width="1" fill="none"/>
<path d="M288.5 335L288.5 341.4" stroke="#800000" stroke-width="1"/>
<path d="M281.3 341.5L294.7 341.5" stroke="#800000" stroke-width="1"/>
<path d="M283.1 343.5L292.9 343.5" stroke="#800000" stroke-width="1"/>
<path d="M285 345.5L291 345.5" stroke="#800000" stroke-width="1"/>
<path d="M287.3 347.5L288.7 347.5" stroke="#800000" stroke-width="1"/>
<text x="288" y="352.65" fill="#800000" font-size="6" text-anchor="middle">GND</text>
<text class="cj" x="268.2" y="373.6" font-size="9.1">滤波电路</text>
<rect x="380.5" y="282.5" width="26" height="52" fill="#ffffb0" stroke="#800000" stroke-width="1"/>
<text x="380.4" y="280.4" fill="#000080" font-size="6">S_CH1</text>
<text x="380.4" y="339.6" fill="#000080" font-size="6">CH1</text>
<path d="M406.5 289.5L419.6 289.5" stroke="#000000" stroke-width="1"/>
<text x="412.1" y="287.1" fill="#000000" font-size="6">1</text>
<text x="402.1" y="291" fill="#000000" font-size="6" text-anchor="end">VCC</text>
<path d="M419.6 289.5L426.6 289.5" stroke="#000080" stroke-width="1" fill="none"/>
<path d="M426.6 289.5L433.3 289.5" stroke="#800000" stroke-width="1"/>
<path d="M433.5 286.2L433.5 292.4" stroke="#800000" stroke-width="1"/>
<text x="434.5" y="291.2" fill="#800000" font-size="6">VCC</text>
<path d="M406.5 302.5L419.6 302.5" stroke="#000000" stroke-width="1"/>
<text x="412.1" y="300.1" fill="#000000" font-size="6">2</text>
<text x="402.1" y="304" fill="#000000" font-size="6" text-anchor="end">GND</text>
<path d="M419.6 302.5L426.6 302.5" stroke="#000080" stroke-width="1" fill="none"/>
<path d="M426.6 302.5L433.3 302.5" stroke="#800000" stroke-width="1"/>
<path d="M433.5 295.6L433.5 309" stroke="#800000" stroke-width="1"/>
<path d="M435.5 297.4L435.5 307.2" stroke="#800000" stroke-width="1"/>
<path d="M437.5 299.3L437.5 305.3" stroke="#800000" stroke-width="1"/>
<path d="M439.5 301.6L439.5 303" stroke="#800000" stroke-width="1"/>
<text x="441.05" y="304.2" fill="#800000" font-size="6">GND</text>
<path d="M406.5 315.5L419.6 315.5" stroke="#000000" stroke-width="1"/>
<text x="412.1" y="313.2" fill="#000000" font-size="6">3</text>
<text x="402.1" y="317.1" fill="#000000" font-size="6" text-anchor="end">RX1</text>
<path d="M419.6 315.5L439.5 315.5" stroke="#000080" stroke-width="1" fill="none"/>
<text x="427.1" y="313.4" fill="#800000" font-size="6">PA10</text>
<path d="M406.5 328.5L419.6 328.5" stroke="#000000" stroke-width="1"/>
<text x="412.1" y="326.3" fill="#000000" font-size="6">4</text>
<text x="402.1" y="330.2" fill="#000000" font-size="6" text-anchor="end">TX1</text>
<path d="M419.6 328.5L439.5 328.5" stroke="#000080" stroke-width="1" fill="none"/>
<text x="427.1" y="326.5" fill="#800000" font-size="6">PA9</text>
<rect x="473.5" y="282.5" width="25" height="52" fill="#ffffb0" stroke="#800000" stroke-width="1"/>
<text x="473.1" y="280.4" fill="#000080" font-size="6">S_CH2</text>
<text x="473.1" y="339.6" fill="#000080" font-size="6">CH2</text>
<path d="M498.6 289.5L511.7 289.5" stroke="#000000" stroke-width="1"/>
<text x="504.2" y="287.1" fill="#000000" font-size="6">1</text>
<text x="494.2" y="291" fill="#000000" font-size="6" text-anchor="end">VCC</text>
<path d="M511.7 289.5L519.5 289.5" stroke="#000080" stroke-width="1" fill="none"/>
<path d="M519.5 289.5L526.2 289.5" stroke="#800000" stroke-width="1"/>
<path d="M526.5 286.2L526.5 292.4" stroke="#800000" stroke-width="1"/>
<text x="527.4" y="291.2" fill="#800000" font-size="6">VCC</text>
<path d="M498.6 302.5L511.7 302.5" stroke="#000000" stroke-width="1"/>
<text x="504.2" y="300.1" fill="#000000" font-size="6">2</text>
<text x="494.2" y="304" fill="#000000" font-size="6" text-anchor="end">GND</text>
<path d="M511.7 302.5L519.5 302.5" stroke="#000080" stroke-width="1" fill="none"/>
<path d="M519.5 302.5L526.2 302.5" stroke="#800000" stroke-width="1"/>
<path d="M526.5 295.6L526.5 309" stroke="#800000" stroke-width="1"/>
<path d="M528.5 297.4L528.5 307.2" stroke="#800000" stroke-width="1"/>
<path d="M530.5 299.3L530.5 305.3" stroke="#800000" stroke-width="1"/>
<path d="M532.5 301.6L532.5 303" stroke="#800000" stroke-width="1"/>
<text x="533.95" y="304.2" fill="#800000" font-size="6">GND</text>
<path d="M498.6 315.5L511.7 315.5" stroke="#000000" stroke-width="1"/>
<text x="504.2" y="313.2" fill="#000000" font-size="6">3</text>
<text x="494.2" y="317.1" fill="#000000" font-size="6" text-anchor="end">RX2</text>
<path d="M511.7 315.5L532.6 315.5" stroke="#000080" stroke-width="1" fill="none"/>
<text x="519.2" y="313.4" fill="#800000" font-size="6">PA3</text>
<path d="M498.6 328.5L511.7 328.5" stroke="#000000" stroke-width="1"/>
<text x="504.2" y="326.3" fill="#000000" font-size="6">4</text>
<text x="494.2" y="330.2" fill="#000000" font-size="6" text-anchor="end">TX2</text>
<path d="M511.7 328.5L532.6 328.5" stroke="#000080" stroke-width="1" fill="none"/>
<text x="519.2" y="326.5" fill="#800000" font-size="6">PA2</text>
<rect x="566.5" y="282.5" width="25" height="52" fill="#ffffb0" stroke="#800000" stroke-width="1"/>
<text x="566" y="280.4" fill="#000080" font-size="6">S_CH3</text>
<text x="566" y="339.6" fill="#000080" font-size="6">CH3</text>
<path d="M591.8 289.5L604.9 289.5" stroke="#000000" stroke-width="1"/>
<text x="597.4" y="287.1" fill="#000000" font-size="6">1</text>
<text x="587.4" y="291" fill="#000000" font-size="6" text-anchor="end">VCC</text>
<path d="M604.9 289.5L611.9 289.5" stroke="#000080" stroke-width="1" fill="none"/>
<path d="M611.9 289.5L618.6 289.5" stroke="#800000" stroke-width="1"/>
<path d="M618.5 286.2L618.5 292.4" stroke="#800000" stroke-width="1"/>
<text x="619.8" y="291.2" fill="#800000" font-size="6">VCC</text>
<path d="M591.8 302.5L604.9 302.5" stroke="#000000" stroke-width="1"/>
<text x="597.4" y="300.1" fill="#000000" font-size="6">2</text>
<text x="587.4" y="304" fill="#000000" font-size="6" text-anchor="end">GND</text>
<path d="M604.9 302.5L611.9 302.5" stroke="#000080" stroke-width="1" fill="none"/>
<path d="M611.9 302.5L618.6 302.5" stroke="#800000" stroke-width="1"/>
<path d="M618.5 295.6L618.5 309" stroke="#800000" stroke-width="1"/>
<path d="M620.5 297.4L620.5 307.2" stroke="#800000" stroke-width="1"/>
<path d="M622.5 299.3L622.5 305.3" stroke="#800000" stroke-width="1"/>
<path d="M624.5 301.6L624.5 303" stroke="#800000" stroke-width="1"/>
<text x="626.35" y="304.2" fill="#800000" font-size="6">GND</text>
<path d="M591.8 315.5L604.9 315.5" stroke="#000000" stroke-width="1"/>
<text x="597.4" y="313.2" fill="#000000" font-size="6">3</text>
<text x="587.4" y="317.1" fill="#000000" font-size="6" text-anchor="end">RX3</text>
<path d="M604.9 315.5L624.8 315.5" stroke="#000080" stroke-width="1" fill="none"/>
<text x="612.4" y="313.4" fill="#800000" font-size="6">PB11</text>
<path d="M591.8 328.5L604.9 328.5" stroke="#000000" stroke-width="1"/>
<text x="597.4" y="326.3" fill="#000000" font-size="6">4</text>
<text x="587.4" y="330.2" fill="#000000" font-size="6" text-anchor="end">TX3</text>
<path d="M604.9 328.5L624.8 328.5" stroke="#000080" stroke-width="1" fill="none"/>
<text x="612.4" y="326.5" fill="#800000" font-size="6">PB10</text>
<text class="cj" x="486.9" y="363" font-size="8.85">串口电路</text>
<path d="M678.6 275.5L671.6 275.5" stroke="#800000" stroke-width="1"/>
<path d="M671.5 268.5L671.5 281.9" stroke="#800000" stroke-width="1"/>
<path d="M669.5 270.3L669.5 280.1" stroke="#800000" stroke-width="1"/>
<path d="M667.5 272.2L667.5 278.2" stroke="#800000" stroke-width="1"/>
<path d="M665.5 274.5L665.5 275.9" stroke="#800000" stroke-width="1"/>
<text x="663.25" y="277.1" fill="#800000" font-size="6" text-anchor="end">GND</text>
<path d="M678.6 275.5L684.9 275.5" stroke="#000080" stroke-width="1" fill="none"/>
<path d="M684.5 275.2L684.5 341.4" stroke="#000080" stroke-width="1" fill="none"/>
<circle cx="684.5" cy="275.5" r="1.4" fill="#000080"/>
<circle cx="684.5" cy="308.5" r="1.4" fill="#000080"/>
<path d="M684.9 275.5L691.3 275.5" stroke="#000080" stroke-width="1" fill="none"/>
<path d="M698.6 275.5L691.5 275.5L691.5 282.5L698.6 282.5" stroke="#000000" stroke-width="1" fill="none"/>
<path d="M717.4 275.5L724.5 275.5L724.5 282.5L717.4 282.5" stroke="#000000" stroke-width="1" fill="none"/>
<path d="M701.5 276Q703.6 278.6 701.5 281.1M714.5 276Q712.4 278.6 714.5 281.1" stroke="#0000ff" stroke-width="0.9"/>
<circle cx="700" cy="275.2" r="1.7" stroke="#0000ff" fill="#fff" stroke-width="0.8"/>
<circle cx="700" cy="281.9" r="1.7" stroke="#0000ff" fill="#fff" stroke-width="0.8"/>
<circle cx="716" cy="275.2" r="1.7" stroke="#0000ff" fill="#fff" stroke-width="0.8"/>
<circle cx="716" cy="281.9" r="1.7" stroke="#0000ff" fill="#fff" stroke-width="0.8"/>
<path d="M698 271.5L718.7 271.5" stroke="#0000ff" stroke-width="1.1"/>
<rect x="704.8" y="268.9" width="6.4" height="2.3" fill="#0000ff"/>
<path d="M724.5 275.5L743.7 275.5" stroke="#000080" stroke-width="1" fill="none"/>
<text x="731" y="272.9" fill="#800000" font-size="6">PB7</text>
<text x="697.6" y="266.7" fill="#000080" font-size="6">K1</text>
<text x="697.6" y="288.6" fill="#000080" font-size="6">KEY</text>
<path d="M684.9 308.5L691.3 308.5" stroke="#000080" stroke-width="1" fill="none"/>
<path d="M698.6 308.5L691.5 308.5L691.5 315.5L698.6 315.5" stroke="#000000" stroke-width="1" fill="none"/>
<path d="M717.4 308.5L724.5 308.5L724.5 315.5L717.4 315.5" stroke="#000000" stroke-width="1" fill="none"/>
<path d="M701.5 309.2Q703.6 311.8 701.5 314.3M714.5 309.2Q712.4 311.8 714.5 314.3" stroke="#0000ff" stroke-width="0.9"/>
<circle cx="700" cy="308.4" r="1.7" stroke="#0000ff" fill="#fff" stroke-width="0.8"/>
<circle cx="700" cy="315.1" r="1.7" stroke="#0000ff" fill="#fff" stroke-width="0.8"/>
<circle cx="716" cy="308.4" r="1.7" stroke="#0000ff" fill="#fff" stroke-width="0.8"/>
<circle cx="716" cy="315.1" r="1.7" stroke="#0000ff" fill="#fff" stroke-width="0.8"/>
<path d="M698 304.5L718.7 304.5" stroke="#0000ff" stroke-width="1.1"/>
<rect x="704.8" y="302.1" width="6.4" height="2.3" fill="#0000ff"/>
<path d="M724.5 308.5L743.7 308.5" stroke="#000080" stroke-width="1" fill="none"/>
<text x="731" y="306.1" fill="#800000" font-size="6">PB8</text>
<text x="697.6" y="299.9" fill="#000080" font-size="6">K2</text>
<text x="697.6" y="321.8" fill="#000080" font-size="6">KEY</text>
<path d="M684.9 341.5L691.3 341.5" stroke="#000080" stroke-width="1" fill="none"/>
<path d="M698.6 341.5L691.5 341.5L691.5 348.5L698.6 348.5" stroke="#000000" stroke-width="1" fill="none"/>
<path d="M717.4 341.5L724.5 341.5L724.5 348.5L717.4 348.5" stroke="#000000" stroke-width="1" fill="none"/>
<path d="M701.5 342.2Q703.6 344.8 701.5 347.3M714.5 342.2Q712.4 344.8 714.5 347.3" stroke="#0000ff" stroke-width="0.9"/>
<circle cx="700" cy="341.4" r="1.7" stroke="#0000ff" fill="#fff" stroke-width="0.8"/>
<circle cx="700" cy="348.1" r="1.7" stroke="#0000ff" fill="#fff" stroke-width="0.8"/>
<circle cx="716" cy="341.4" r="1.7" stroke="#0000ff" fill="#fff" stroke-width="0.8"/>
<circle cx="716" cy="348.1" r="1.7" stroke="#0000ff" fill="#fff" stroke-width="0.8"/>
<path d="M698 337.5L718.7 337.5" stroke="#0000ff" stroke-width="1.1"/>
<rect x="704.8" y="335.1" width="6.4" height="2.3" fill="#0000ff"/>
<path d="M724.5 341.5L743.7 341.5" stroke="#000080" stroke-width="1" fill="none"/>
<text x="731" y="339.1" fill="#800000" font-size="6">PB9</text>
<text x="697.6" y="332.9" fill="#000080" font-size="6">K3</text>
<text x="697.6" y="354.8" fill="#000080" font-size="6">KEY</text>
<text class="cj" x="691.8" y="373.2" font-size="8.95">按键电路</text>
<path d="M837.5 229L837.5 222.5" stroke="#800000" stroke-width="1"/>
<path d="M834.4 222.5L840.4 222.5" stroke="#800000" stroke-width="1"/>
<text x="837.4" y="220.1" fill="#800000" font-size="6" text-anchor="middle">VCC</text>
<path d="M837.5 229L837.5 235.7" stroke="#000080" stroke-width="1" fill="none"/>
<path d="M837.5 235.7L837.5 262" stroke="#000000" stroke-width="1"/>
<path d="M837.4 241.5L857.5 241.5L857.5 248.5" stroke="#000000" stroke-width="1" fill="none"/>
<path d="M851.8 248.5L863.4 248.5L857.6 255.7Z" stroke="#0000ff" stroke-width="0.4" fill="#0000ff"/>
<path d="M851.8 256.2L863.4 256.2" stroke="#0000ff" stroke-width="1.5"/>
<path d="M857.5 256L857.5 269.1" stroke="#0000ff" stroke-width="1"/>
<path d="M857.5 269.1L857.5 272.3" stroke="#000000" stroke-width="1"/>
<path d="M857.6 272.3L859.1 273.29L856.1 275.26L859.1 277.24L856.1 279.21L857.6 280.2" stroke="#000000" stroke-width="1" fill="none"/>
<path d="M857.5 280.2L857.5 282.5L837.4 282.5" stroke="#000000" stroke-width="1" fill="none"/>
<path d="M830.6 262.5L837.4 262.5" stroke="#000000" stroke-width="1"/>
<path d="M830.6 269.5L837.4 269.5" stroke="#000000" stroke-width="1"/>
<path d="M837.5 269.1L837.5 289.8" stroke="#000000" stroke-width="1"/>
<path d="M830.6 259.3V271.8A6.6 6.25 0 0 1 830.6 259.3Z" stroke="#0000ff" stroke-width="1.1" fill="#fffff4"/>
<path d="M822.8 293L822.8 310.4" stroke="#0000ff" stroke-width="1.8"/>
<path d="M822.8 300.7L837.4 289.8" stroke="#0000ff" stroke-width="1"/>
<path d="M822.8 303.7L837.4 315.4" stroke="#0000ff" stroke-width="1"/>
<path d="M832.73 311.66L828.61 310.4L830.61 307.91Z" stroke="#0000ff" stroke-width="0.3" fill="#0000ff"/>
<path d="M837.5 315.4L837.5 328.2" stroke="#000000" stroke-width="1"/>
<path d="M837.5 328.2L837.5 335" stroke="#000080" stroke-width="1" fill="none"/>
<path d="M837.5 335L837.5 341.2" stroke="#800000" stroke-width="1"/>
<path d="M830.7 341.5L844.1 341.5" stroke="#800000" stroke-width="1"/>
<path d="M832.5 343.5L842.3 343.5" stroke="#800000" stroke-width="1"/>
<path d="M834.4 345.5L840.4 345.5" stroke="#800000" stroke-width="1"/>
<path d="M836.7 347.5L838.1 347.5" stroke="#800000" stroke-width="1"/>
<text x="837.4" y="352.45" fill="#800000" font-size="6" text-anchor="middle">GND</text>
<path d="M758 302.5L777 302.5" stroke="#000080" stroke-width="1" fill="none"/>
<path d="M777 302.5L791.5 302.5" stroke="#000000" stroke-width="1"/>
<path d="M791.5 302.3L792.38 301L794.12 303.6L795.88 301L797.62 303.6L799.38 301L801.12 303.6L802 302.3" stroke="#0000ff" stroke-width="1" fill="none"/>
<path d="M802 302.5L810 302.5" stroke="#000000" stroke-width="1"/>
<path d="M810 302.5L822.8 302.5" stroke="#0000ff" stroke-width="1"/>
<text x="763.7" y="298.6" fill="#800000" font-size="6">PA7</text>
<text x="782.5" y="298.6" fill="#000000" font-size="6">3</text>
<text x="791.2" y="298.4" fill="#000080" font-size="5">1K</text>
<text x="837.2" y="305.8" fill="#000080" font-size="6">NPN</text>
<text x="870" y="246.4" fill="#000080" font-size="6">B1</text>
<text x="870" y="253.3" fill="#000080" font-size="6">BEEP</text>
<text x="855.4" y="280" fill="#000080" font-size="5.4" transform="rotate(-90 855.4 280)">1K</text>
<path d="M866.9 257.6L869.7 260.4" stroke="#0000ff" stroke-width="0.9" fill="none"/>
<path d="M870.1 258.4L870.1 260.8L867.7 260.8Z" stroke="#0000ff" stroke-width="0.3" fill="#0000ff"/>
<path d="M866.3 262.8L869.1 265.6" stroke="#0000ff" stroke-width="0.9" fill="none"/>
<path d="M869.5 263.6L869.5 266L867.1 266Z" stroke="#0000ff" stroke-width="0.3" fill="#0000ff"/>
<text x="833.2" y="323.5" fill="#000000" font-size="4.2" transform="rotate(-90 833.2 323.5)">2</text>
<text x="832.5" y="243.5" fill="#000000" font-size="4.2" transform="rotate(-90 832.5 243.5)">1</text>
<text class="cj" x="808.4" y="373.7" font-size="9">声光报警电路</text>
<rect x="896.5" y="282.5" width="39" height="52" fill="#ffffb0" stroke="#800000" stroke-width="1"/>
<text x="896.3" y="280.6" fill="#000080" font-size="6">LED1</text>
<text x="896.3" y="339.6" fill="#000080" font-size="6">OLED</text>
<path d="M935.6 289.5L948.7 289.5" stroke="#000000" stroke-width="1"/>
<text x="941.2" y="287.1" fill="#000000" font-size="6">1</text>
<text x="931.2" y="291" fill="#000000" font-size="6" text-anchor="end">GND</text>
<path d="M948.7 289.5L955.7 289.5" stroke="#000080" stroke-width="1" fill="none"/>
<path d="M955.7 289.5L962.4 289.5" stroke="#800000" stroke-width="1"/>
<path d="M962.5 282.6L962.5 296" stroke="#800000" stroke-width="1"/>
<path d="M964.5 284.4L964.5 294.2" stroke="#800000" stroke-width="1"/>
<path d="M966.5 286.3L966.5 292.3" stroke="#800000" stroke-width="1"/>
<path d="M968.5 288.6L968.5 290" stroke="#800000" stroke-width="1"/>
<text x="970.15" y="291.2" fill="#800000" font-size="6">GND</text>
<path d="M935.6 302.5L948.7 302.5" stroke="#000000" stroke-width="1"/>
<text x="941.2" y="300.3" fill="#000000" font-size="6">2</text>
<text x="931.2" y="304.2" fill="#000000" font-size="6" text-anchor="end">VCC</text>
<path d="M948.7 302.5L955.7 302.5" stroke="#000080" stroke-width="1" fill="none"/>
<path d="M955.7 302.5L962.4 302.5" stroke="#800000" stroke-width="1"/>
<path d="M962.5 299.4L962.5 305.6" stroke="#800000" stroke-width="1"/>
<text x="963.6" y="304.4" fill="#800000" font-size="6">VCC</text>
<path d="M935.6 315.5L948.7 315.5" stroke="#000000" stroke-width="1"/>
<text x="941.2" y="313.3" fill="#000000" font-size="6">3</text>
<text x="931.2" y="317.2" fill="#000000" font-size="6" text-anchor="end">SCL</text>
<path d="M948.7 315.5L968.6 315.5" stroke="#000080" stroke-width="1" fill="none"/>
<text x="955.6" y="313.5" fill="#800000" font-size="6">PB1</text>
<path d="M935.6 328.5L948.7 328.5" stroke="#000000" stroke-width="1"/>
<text x="941.2" y="326.3" fill="#000000" font-size="6">4</text>
<text x="931.2" y="330.2" fill="#000000" font-size="6" text-anchor="end">SDA</text>
<path d="M948.7 328.5L968.6 328.5" stroke="#000080" stroke-width="1" fill="none"/>
<text x="955.6" y="326.5" fill="#800000" font-size="6">PB0</text>
<text x="908" y="308.7" fill="#000080" font-size="6" text-anchor="middle" transform="rotate(-90 908 308.7)">OLED</text>
<text x="912.8" y="361.4" fill="#000080" font-size="8.3" font-weight="bold" fill-opacity="0.75" textLength="21.8" lengthAdjust="spacingAndGlyphs">OLED</text>
<text class="cj" x="935.8" y="361.7" font-size="8.7">显示屏</text>
<rect x="37.5" y="414.5" width="25" height="39" fill="#ffffb0" stroke="#800000" stroke-width="1"/>
<text x="37.2" y="412.3" fill="#000080" font-size="6">U1</text>
<text x="37.2" y="458.1" fill="#000080" font-size="6">DHT11</text>
<path d="M62.5 421.5L76 421.5" stroke="#000000" stroke-width="1"/>
<text x="68.1" y="418.9" fill="#000000" font-size="6">1</text>
<text x="58.1" y="422.8" fill="#000000" font-size="6" text-anchor="end">VCC</text>
<path d="M76 421.5L90.3 421.5" stroke="#000080" stroke-width="1" fill="none"/>
<path d="M90.3 421.5L96.3 421.5" stroke="#800000" stroke-width="1"/>
<path d="M96.5 418L96.5 424.2" stroke="#800000" stroke-width="1"/>
<text x="97.5" y="423" fill="#800000" font-size="6">VCC</text>
<path d="M62.5 434.5L76 434.5" stroke="#000000" stroke-width="1"/>
<text x="68.1" y="432.1" fill="#000000" font-size="6">2</text>
<text x="58.1" y="436" fill="#000000" font-size="6" text-anchor="end">GND</text>
<path d="M76 434.5L90.3 434.5" stroke="#000080" stroke-width="1" fill="none"/>
<path d="M90.3 434.5L96.3 434.5" stroke="#800000" stroke-width="1"/>
<path d="M96.5 427.6L96.5 441" stroke="#800000" stroke-width="1"/>
<path d="M98.5 429.4L98.5 439.2" stroke="#800000" stroke-width="1"/>
<path d="M100.5 431.3L100.5 437.3" stroke="#800000" stroke-width="1"/>
<path d="M102.5 433.6L102.5 435" stroke="#800000" stroke-width="1"/>
<text x="104.05" y="436.2" fill="#800000" font-size="6">GND</text>
<path d="M62.5 447.5L76 447.5" stroke="#000000" stroke-width="1"/>
<text x="68.1" y="445.2" fill="#000000" font-size="6">3</text>
<text x="58.1" y="449.1" fill="#000000" font-size="6" text-anchor="end">OUT</text>
<path d="M76 447.5L96.3 447.5" stroke="#000080" stroke-width="1" fill="none"/>
<text x="83.3" y="445.4" fill="#800000" font-size="6">PB12</text>
<text class="cj" x="37.2" y="479.4" font-size="9.04">温湿度检测模块</text>
<rect x="182.5" y="414.5" width="26" height="52" fill="#ffffb0" stroke="#800000" stroke-width="1"/>
<text x="182.3" y="412.1" fill="#000080" font-size="6">U2</text>
<text x="182.3" y="471.6" fill="#000080" font-size="6">MQ-2</text>
<path d="M208.8 421.5L221.9 421.5" stroke="#000000" stroke-width="1"/>
<text x="214.4" y="419.2" fill="#000000" font-size="6">1</text>
<text x="204.4" y="423.1" fill="#000000" font-size="6" text-anchor="end">VCC</text>
<path d="M221.9 421.5L228.9 421.5" stroke="#000080" stroke-width="1" fill="none"/>
<path d="M228.9 421.5L235.6 421.5" stroke="#800000" stroke-width="1"/>
<path d="M235.5 418.3L235.5 424.5" stroke="#800000" stroke-width="1"/>
<text x="236.8" y="423.3" fill="#800000" font-size="6">VCC</text>
<path d="M208.8 434.5L221.9 434.5" stroke="#000000" stroke-width="1"/>
<text x="214.4" y="432.2" fill="#000000" font-size="6">2</text>
<text x="204.4" y="436.1" fill="#000000" font-size="6" text-anchor="end">GND</text>
<path d="M221.9 434.5L228.9 434.5" stroke="#000080" stroke-width="1" fill="none"/>
<path d="M228.9 434.5L235.6 434.5" stroke="#800000" stroke-width="1"/>
<path d="M235.5 427.7L235.5 441.1" stroke="#800000" stroke-width="1"/>
<path d="M237.5 429.5L237.5 439.3" stroke="#800000" stroke-width="1"/>
<path d="M239.5 431.4L239.5 437.4" stroke="#800000" stroke-width="1"/>
<path d="M241.5 433.7L241.5 435.1" stroke="#800000" stroke-width="1"/>
<text x="243.35" y="436.3" fill="#800000" font-size="6">GND</text>
<path d="M208.8 447.5L221.9 447.5" stroke="#000000" stroke-width="1"/>
<text x="214.4" y="445.3" fill="#000000" font-size="6">3</text>
<text x="204.4" y="449.2" fill="#000000" font-size="6" text-anchor="end">DO</text>
<path d="M221.9 447.5L241.8 447.5" stroke="#000080" stroke-width="1" fill="none"/>
<text x="228.4" y="445.5" fill="#800000" font-size="6">PB15</text>
<path d="M208.8 460.5L221.9 460.5" stroke="#000000" stroke-width="1"/>
<text x="214.4" y="458.3" fill="#000000" font-size="6">4</text>
<text x="204.4" y="462.2" fill="#000000" font-size="6" text-anchor="end">AO</text>
<path d="M221.9 460.5L241.8 460.5" stroke="#000080" stroke-width="1" fill="none"/>
<text x="228.4" y="458.5" fill="#800000" font-size="6">PA0</text>
<text class="cj" x="182.5" y="493" font-size="8.9">烟雾检测模块</text>
<rect x="341.5" y="414.5" width="25" height="45" fill="#ffffb0" stroke="#800000" stroke-width="1"/>
<text x="341.3" y="412.3" fill="#000080" font-size="6">U3</text>
<text x="341.3" y="465.4" fill="#000080" font-size="6">INA219</text>
<path d="M366.9 421.5L380 421.5" stroke="#000000" stroke-width="1"/>
<text x="372.9" y="419.3" fill="#000000" font-size="6">1</text>
<text x="362.6" y="423" fill="#000000" font-size="6" text-anchor="end">VCC</text>
<path d="M366.9 428.5L380 428.5" stroke="#000000" stroke-width="1"/>
<text x="372.9" y="425.87" fill="#000000" font-size="6">2</text>
<text x="362.6" y="429.57" fill="#000000" font-size="6" text-anchor="end">GND</text>
<path d="M366.9 434.5L380 434.5" stroke="#000000" stroke-width="1"/>
<text x="372.9" y="432.44" fill="#000000" font-size="6">3</text>
<text x="362.6" y="436.14" fill="#000000" font-size="6" text-anchor="end">SCL</text>
<path d="M380 434.5L400.2 434.5" stroke="#000080" stroke-width="1" fill="none"/>
<text x="387" y="432.74" fill="#800000" font-size="6">PA15</text>
<path d="M366.9 441.5L380 441.5" stroke="#000000" stroke-width="1"/>
<text x="372.9" y="439.01" fill="#000000" font-size="6">4</text>
<text x="362.6" y="442.71" fill="#000000" font-size="6" text-anchor="end">SDA</text>
<path d="M380 441.5L400.2 441.5" stroke="#000080" stroke-width="1" fill="none"/>
<text x="387" y="439.31" fill="#800000" font-size="6">PA12</text>
<path d="M366.9 447.5L380 447.5" stroke="#000000" stroke-width="1"/>
<text x="372.9" y="445.58" fill="#000000" font-size="6">5</text>
<text x="362.6" y="449.28" fill="#000000" font-size="6" text-anchor="end">VIN-</text>
<path d="M380 447.5L400.2 447.5" stroke="#000080" stroke-width="1" fill="none"/>
<text x="387" y="445.88" fill="#800000" font-size="6">VIN-</text>
<path d="M366.9 454.5L380 454.5" stroke="#000000" stroke-width="1"/>
<text x="372.9" y="452.15" fill="#000000" font-size="6">6</text>
<text x="362.6" y="455.85" fill="#000000" font-size="6" text-anchor="end">VIN+</text>
<path d="M380 454.5L400.2 454.5" stroke="#000080" stroke-width="1" fill="none"/>
<text x="387" y="452.45" fill="#800000" font-size="6">VIN+</text>
<path d="M380 421.5L387.6 421.5" stroke="#000080" stroke-width="1" fill="none"/>
<path d="M387.5 421.5L387.5 414.5" stroke="#800000" stroke-width="1"/>
<path d="M384.6 414.5L390.6 414.5" stroke="#800000" stroke-width="1"/>
<text x="387.6" y="412.1" fill="#800000" font-size="6" text-anchor="middle">VCC</text>
<path d="M380 428.5L400.5 428.5L400.5 421.5" stroke="#000080" stroke-width="1" fill="none"/>
<path d="M400.5 421.5L400.5 414.5" stroke="#800000" stroke-width="1"/>
<path d="M393.7 414.5L407.1 414.5" stroke="#800000" stroke-width="1"/>
<path d="M395.5 412.5L405.3 412.5" stroke="#800000" stroke-width="1"/>
<path d="M397.4 410.5L403.4 410.5" stroke="#800000" stroke-width="1"/>
<path d="M399.7 408.5L401.1 408.5" stroke="#800000" stroke-width="1"/>
<text x="400.4" y="406.85" fill="#800000" font-size="6" text-anchor="middle">GND</text>
<text class="cj" x="340.9" y="479.5" font-size="8.9">电压电流检测模块</text>
<rect x="486.5" y="414.5" width="26" height="39" fill="#ffffb0" stroke="#800000" stroke-width="1"/>
<text x="486.2" y="412.1" fill="#000080" font-size="6">U4</text>
<text x="486.2" y="458.3" fill="#000080" font-size="6">D203S</text>
<path d="M512.7 421.5L525.8 421.5" stroke="#000000" stroke-width="1"/>
<text x="518.3" y="419.1" fill="#000000" font-size="6">1</text>
<text x="508.3" y="423" fill="#000000" font-size="6" text-anchor="end">VCC</text>
<path d="M525.8 421.5L532.8 421.5" stroke="#000080" stroke-width="1" fill="none"/>
<path d="M532.8 421.5L539.5 421.5" stroke="#800000" stroke-width="1"/>
<path d="M539.5 418.2L539.5 424.4" stroke="#800000" stroke-width="1"/>
<text x="540.7" y="423.2" fill="#800000" font-size="6">VCC</text>
<path d="M512.7 434.5L525.8 434.5" stroke="#000000" stroke-width="1"/>
<text x="518.3" y="432.2" fill="#000000" font-size="6">2</text>
<text x="508.3" y="436.1" fill="#000000" font-size="6" text-anchor="end">GND</text>
<path d="M525.8 434.5L532.8 434.5" stroke="#000080" stroke-width="1" fill="none"/>
<path d="M532.8 434.5L539.5 434.5" stroke="#800000" stroke-width="1"/>
<path d="M539.5 427.7L539.5 441.1" stroke="#800000" stroke-width="1"/>
<path d="M541.5 429.5L541.5 439.3" stroke="#800000" stroke-width="1"/>
<path d="M543.5 431.4L543.5 437.4" stroke="#800000" stroke-width="1"/>
<path d="M545.5 433.7L545.5 435.1" stroke="#800000" stroke-width="1"/>
<text x="547.25" y="436.3" fill="#800000" font-size="6">GND</text>
<path d="M512.7 447.5L525.8 447.5" stroke="#000000" stroke-width="1"/>
<text x="518.3" y="445.3" fill="#000000" font-size="6">3</text>
<text x="508.3" y="449.2" fill="#000000" font-size="6" text-anchor="end">OUT</text>
<path d="M525.8 447.5L546.1 447.5" stroke="#000080" stroke-width="1" fill="none"/>
<text x="532.7" y="445.5" fill="#800000" font-size="6">PB13</text>
<text class="cj" x="486.9" y="479.1" font-size="9.06">人体热释电感应模块</text>
<rect x="632.5" y="414.5" width="38" height="59" fill="#ffffb0" stroke="#800000" stroke-width="1"/>
<text x="632" y="412" fill="#000080" font-size="6">U5</text>
<text x="632" y="478.3" fill="#000080" font-size="6">ULN2003A</text>
<path d="M618.2 421.5L632.2 421.5" stroke="#000000" stroke-width="1"/>
<text x="626.6" y="419.2" fill="#000000" font-size="6" text-anchor="end">1</text>
<text x="636.2" y="422.9" fill="#000000" font-size="6">IN1</text>
<text x="666.7" y="422.9" fill="#000000" font-size="6" text-anchor="end">OT1</text>
<text x="677.2" y="419.2" fill="#000000" font-size="6">16</text>
<path d="M599.3 421.5L618.2 421.5" stroke="#000080" stroke-width="1" fill="none"/>
<text x="605.7" y="419" fill="#800000" font-size="6">PB3</text>
<path d="M670.8 421.5L691.3 421.5" stroke="#000000" stroke-width="1"/>
<path d="M618.2 427.5L632.2 427.5" stroke="#000000" stroke-width="1"/>
<text x="626.6" y="425.76" fill="#000000" font-size="6" text-anchor="end">2</text>
<text x="636.2" y="429.46" fill="#000000" font-size="6">IN2</text>
<text x="666.7" y="429.46" fill="#000000" font-size="6" text-anchor="end">OT2</text>
<text x="677.2" y="425.76" fill="#000000" font-size="6">15</text>
<path d="M599.3 427.5L618.2 427.5" stroke="#000080" stroke-width="1" fill="none"/>
<text x="605.7" y="425.56" fill="#800000" font-size="6">PB4</text>
<path d="M670.8 427.5L691.3 427.5" stroke="#000000" stroke-width="1"/>
<path d="M618.2 434.5L632.2 434.5" stroke="#000000" stroke-width="1"/>
<text x="626.6" y="432.32" fill="#000000" font-size="6" text-anchor="end">3</text>
<text x="636.2" y="436.02" fill="#000000" font-size="6">IN3</text>
<text x="666.7" y="436.02" fill="#000000" font-size="6" text-anchor="end">OT3</text>
<text x="677.2" y="432.32" fill="#000000" font-size="6">14</text>
<path d="M599.3 434.5L618.2 434.5" stroke="#000080" stroke-width="1" fill="none"/>
<text x="605.7" y="432.12" fill="#800000" font-size="6">PB5</text>
<path d="M670.8 434.5L691.3 434.5" stroke="#000000" stroke-width="1"/>
<path d="M618.2 440.5L632.2 440.5" stroke="#000000" stroke-width="1"/>
<text x="626.6" y="438.88" fill="#000000" font-size="6" text-anchor="end">4</text>
<text x="636.2" y="442.58" fill="#000000" font-size="6">IN4</text>
<text x="666.7" y="442.58" fill="#000000" font-size="6" text-anchor="end">OT4</text>
<text x="677.2" y="438.88" fill="#000000" font-size="6">13</text>
<path d="M599.3 440.5L618.2 440.5" stroke="#000080" stroke-width="1" fill="none"/>
<text x="605.7" y="438.68" fill="#800000" font-size="6">PB6</text>
<path d="M670.8 440.5L691.3 440.5" stroke="#000000" stroke-width="1"/>
<path d="M618.2 447.5L632.2 447.5" stroke="#000000" stroke-width="1"/>
<text x="626.6" y="445.44" fill="#000000" font-size="6" text-anchor="end">5</text>
<text x="636.2" y="449.14" fill="#000000" font-size="6">IN5</text>
<text x="666.7" y="449.14" fill="#000000" font-size="6" text-anchor="end">OT5</text>
<text x="677.2" y="445.44" fill="#000000" font-size="6">12</text>
<path d="M615.9 449.14L619.3 445.74" stroke="#ff0000" stroke-width="1"/>
<path d="M670.8 447.5L685.2 447.5" stroke="#000000" stroke-width="1"/>
<path d="M618.2 454.5L632.2 454.5" stroke="#000000" stroke-width="1"/>
<text x="626.6" y="452" fill="#000000" font-size="6" text-anchor="end">6</text>
<text x="636.2" y="455.7" fill="#000000" font-size="6">IN6</text>
<text x="666.7" y="455.7" fill="#000000" font-size="6" text-anchor="end">OT6</text>
<text x="677.2" y="452" fill="#000000" font-size="6">11</text>
<path d="M615.9 455.7L619.3 452.3" stroke="#ff0000" stroke-width="1"/>
<path d="M670.8 454.5L685.2 454.5" stroke="#000000" stroke-width="1"/>
<path d="M618.2 460.5L632.2 460.5" stroke="#000000" stroke-width="1"/>
<text x="626.6" y="458.56" fill="#000000" font-size="6" text-anchor="end">7</text>
<text x="636.2" y="462.26" fill="#000000" font-size="6">IN7</text>
<text x="666.7" y="462.26" fill="#000000" font-size="6" text-anchor="end">OT7</text>
<text x="677.2" y="458.56" fill="#000000" font-size="6">10</text>
<path d="M615.9 462.26L619.3 458.86" stroke="#ff0000" stroke-width="1"/>
<path d="M670.8 460.5L685.2 460.5" stroke="#000000" stroke-width="1"/>
<path d="M618.2 467.5L632.2 467.5" stroke="#000000" stroke-width="1"/>
<text x="626.6" y="465.12" fill="#000000" font-size="6" text-anchor="end">8</text>
<text x="636.2" y="468.82" fill="#000000" font-size="6">GND</text>
<text x="666.7" y="468.82" fill="#000000" font-size="6" text-anchor="end">COM</text>
<text x="677.2" y="465.12" fill="#000000" font-size="6">9</text>
<path d="M612.1 467.5L618.2 467.5" stroke="#000080" stroke-width="1" fill="none"/>
<path d="M612.1 467.5L605.7 467.5" stroke="#800000" stroke-width="1"/>
<path d="M605.5 460.42L605.5 473.82" stroke="#800000" stroke-width="1"/>
<path d="M603.5 462.22L603.5 472.02" stroke="#800000" stroke-width="1"/>
<path d="M601.5 464.12L601.5 470.12" stroke="#800000" stroke-width="1"/>
<path d="M599.5 466.42L599.5 467.82" stroke="#800000" stroke-width="1"/>
<text x="597.35" y="469.02" fill="#800000" font-size="6" text-anchor="end">GND</text>
<path d="M670.8 467.5L704.5 467.5" stroke="#000000" stroke-width="1"/>
<path d="M704.5 467.5L711 467.5" stroke="#000080" stroke-width="1" fill="none"/>
<path d="M711 467.5L718.4 467.5" stroke="#800000" stroke-width="1"/>
<path d="M718.5 464.12L718.5 470.12" stroke="#800000" stroke-width="1"/>
<text x="719.6" y="469.02" fill="#800000" font-size="6">VCC</text>
<rect x="691.5" y="414.5" width="12" height="39" fill="#ffffb0" stroke="#800000" stroke-width="1"/>
<text x="693.3" y="422.9" fill="#000000" font-size="6">M1</text>
<text x="693.3" y="429.46" fill="#000000" font-size="6">M2</text>
<text x="693.3" y="436.02" fill="#000000" font-size="6">M3</text>
<text x="693.3" y="442.58" fill="#000000" font-size="6">M4</text>
<text x="692.6" y="451.4" fill="#000000" font-size="5.2">COM</text>
<path d="M698.5 453.5L698.5 467.12" stroke="#000000" stroke-width="1"/>
<text class="cj" x="621" y="499.3" font-size="9.04">四相五线步进电机</text>
<rect x="751.5" y="414.5" width="38" height="59" fill="#ffffb0" stroke="#800000" stroke-width="1"/>
<text x="751.2" y="412.1" fill="#000080" font-size="6">U6</text>
<text x="751.2" y="478.7" fill="#000080" font-size="6">RFID-RC522</text>
<text x="762.2" y="446.5" fill="#000080" font-size="6" text-anchor="middle" transform="rotate(-90 762.2 446.5)">RFID-RC522</text>
<path d="M789.8 421.5L804 421.5" stroke="#000000" stroke-width="1"/>
<text x="795.9" y="419.3" fill="#000000" font-size="6">1</text>
<text x="786" y="423" fill="#000000" font-size="6" text-anchor="end">SDA</text>
<path d="M804 421.5L822.9 421.5" stroke="#000080" stroke-width="1" fill="none"/>
<text x="810.7" y="419.3" fill="#800000" font-size="6">PA6</text>
<path d="M789.8 427.5L804 427.5" stroke="#000000" stroke-width="1"/>
<text x="795.9" y="425.87" fill="#000000" font-size="6">2</text>
<text x="786" y="429.57" fill="#000000" font-size="6" text-anchor="end">SCK</text>
<path d="M804 427.5L822.9 427.5" stroke="#000080" stroke-width="1" fill="none"/>
<text x="810.7" y="425.87" fill="#800000" font-size="6">PA5</text>
<path d="M789.8 434.5L804 434.5" stroke="#000000" stroke-width="1"/>
<text x="795.9" y="432.44" fill="#000000" font-size="6">3</text>
<text x="786" y="436.14" fill="#000000" font-size="6" text-anchor="end">MOSI</text>
<path d="M804 434.5L822.9 434.5" stroke="#000080" stroke-width="1" fill="none"/>
<text x="810.7" y="432.44" fill="#800000" font-size="6">PA4</text>
<path d="M789.8 441.5L804 441.5" stroke="#000000" stroke-width="1"/>
<text x="795.9" y="439.01" fill="#000000" font-size="6">4</text>
<text x="786" y="442.71" fill="#000000" font-size="6" text-anchor="end">MISO</text>
<path d="M804 441.5L822.9 441.5" stroke="#000080" stroke-width="1" fill="none"/>
<text x="810.7" y="439.01" fill="#800000" font-size="6">PA1</text>
<path d="M789.8 447.5L804 447.5" stroke="#000000" stroke-width="1"/>
<text x="795.9" y="445.58" fill="#000000" font-size="6">5</text>
<text x="786" y="449.28" fill="#000000" font-size="6" text-anchor="end">IRQ</text>
<path d="M802.3 449.88L805.7 446.48" stroke="#ff0000" stroke-width="1"/>
<path d="M789.8 454.5L804 454.5" stroke="#000000" stroke-width="1"/>
<text x="795.9" y="452.15" fill="#000000" font-size="6">6</text>
<text x="786" y="455.85" fill="#000000" font-size="6" text-anchor="end">GND</text>
<path d="M804 454.5L822.9 454.5" stroke="#000080" stroke-width="1" fill="none"/>
<path d="M822.9 454.5L830.3 454.5" stroke="#800000" stroke-width="1"/>
<path d="M830.5 447.45L830.5 460.85" stroke="#800000" stroke-width="1"/>
<path d="M832.5 449.25L832.5 459.05" stroke="#800000" stroke-width="1"/>
<path d="M834.5 451.15L834.5 457.15" stroke="#800000" stroke-width="1"/>
<path d="M836.5 453.45L836.5 454.85" stroke="#800000" stroke-width="1"/>
<text x="838.05" y="456.05" fill="#800000" font-size="6">GND</text>
<path d="M789.8 460.5L804 460.5" stroke="#000000" stroke-width="1"/>
<text x="795.9" y="458.72" fill="#000000" font-size="6">7</text>
<text x="786" y="462.42" fill="#000000" font-size="6" text-anchor="end">RST</text>
<path d="M804 460.5L822.9 460.5" stroke="#000080" stroke-width="1" fill="none"/>
<text x="810.7" y="458.72" fill="#800000" font-size="6">PC13</text>
<path d="M789.8 467.5L804 467.5" stroke="#000000" stroke-width="1"/>
<text x="795.9" y="465.29" fill="#000000" font-size="6">8</text>
<text x="786" y="468.99" fill="#000000" font-size="6" text-anchor="end">3.3V</text>
<path d="M804 467.5L822.9 467.5" stroke="#000080" stroke-width="1" fill="none"/>
<path d="M822.9 467.5L830.3 467.5" stroke="#800000" stroke-width="1"/>
<path d="M830.5 464.29L830.5 470.29" stroke="#800000" stroke-width="1"/>
<text x="831.5" y="469.19" fill="#800000" font-size="6">3.3V</text>
<text x="751.1" y="493.2" fill="#000080" font-size="8.3" font-weight="bold" fill-opacity="0.75" textLength="18.1" lengthAdjust="spacingAndGlyphs">RFID</text>
<text class="cj" x="770" y="493.5" font-size="8.7">模块</text>
<rect x="909.5" y="414.5" width="39" height="52" fill="#ffffb0" stroke="#800000" stroke-width="1"/>
<text x="909.3" y="411.8" fill="#000080" font-size="6">U7</text>
<text x="909.3" y="471.4" fill="#000080" font-size="6">ESP8266</text>
<text x="921.2" y="440.5" fill="#000080" font-size="6" text-anchor="middle" transform="rotate(-90 921.2 440.5)">WIFI</text>
<path d="M948.8 421.5L961.9 421.5" stroke="#000000" stroke-width="1"/>
<text x="954.5" y="419.1" fill="#000000" font-size="6">1</text>
<text x="944.2" y="423" fill="#000000" font-size="6" text-anchor="end">VCC</text>
<path d="M961.9 421.5L969.3 421.5" stroke="#800000" stroke-width="1"/>
<path d="M969.5 418.3L969.5 424.3" stroke="#800000" stroke-width="1"/>
<text x="970.5" y="423.2" fill="#800000" font-size="6">VCC</text>
<path d="M948.8 434.5L961.9 434.5" stroke="#000000" stroke-width="1"/>
<text x="954.5" y="431.9" fill="#000000" font-size="6">2</text>
<text x="944.2" y="435.8" fill="#000000" font-size="6" text-anchor="end">GND</text>
<path d="M961.9 434.5L969.3 434.5" stroke="#800000" stroke-width="1"/>
<path d="M969.5 427.4L969.5 440.8" stroke="#800000" stroke-width="1"/>
<path d="M971.5 429.2L971.5 439" stroke="#800000" stroke-width="1"/>
<path d="M973.5 431.1L973.5 437.1" stroke="#800000" stroke-width="1"/>
<path d="M975.5 433.4L975.5 434.8" stroke="#800000" stroke-width="1"/>
<text x="977.05" y="436" fill="#800000" font-size="6">GND</text>
<path d="M948.8 447.5L961.9 447.5" stroke="#000000" stroke-width="1"/>
<text x="954.5" y="445" fill="#000000" font-size="6">3</text>
<text x="944.2" y="448.9" fill="#000000" font-size="6" text-anchor="end">TXD</text>
<path d="M963.3 447.5L982.9 447.5" stroke="#000080" stroke-width="1" fill="none"/>
<text x="969" y="445.2" fill="#800000" font-size="6">PA10</text>
<path d="M948.8 460.5L961.9 460.5" stroke="#000000" stroke-width="1"/>
<text x="954.5" y="458.3" fill="#000000" font-size="6">4</text>
<text x="944.2" y="462.2" fill="#000000" font-size="6" text-anchor="end">RXD</text>
<path d="M963.3 460.5L982.9 460.5" stroke="#000080" stroke-width="1" fill="none"/>
<text x="969" y="458.5" fill="#800000" font-size="6">PA9</text>
<text x="910" y="492.4" fill="#000080" font-size="8.3" font-weight="bold" fill-opacity="0.75" textLength="14.4" lengthAdjust="spacingAndGlyphs">Wifi</text>
<text class="cj" x="924.6" y="492.7" font-size="9.2">模块</text>
<rect x="116.5" y="560.5" width="32" height="38" fill="#ffffb0" stroke="#800000" stroke-width="1"/>
<path d="M123.5 547.2L123.5 560.4" stroke="#000000" stroke-width="1"/>
<path d="M121.7 548.4L124.9 545.2" stroke="#ff0000" stroke-width="1"/>
<path d="M121.7 545.2L124.9 548.4" stroke="#ff0000" stroke-width="1"/>
<path d="M123.5 598.6L123.5 612.7" stroke="#000000" stroke-width="1"/>
<circle cx="123.3" cy="612.9" r="0.9" stroke="#ff0000" fill="#ff0000" stroke-width="0.5"/>
<text x="120.6" y="554.5" fill="#808080" font-size="6" transform="rotate(-90 120.6 554.5)">0</text>
<text x="120.6" y="607.3" fill="#808080" font-size="6" transform="rotate(-90 120.6 607.3)">0</text>
<text x="126.1" y="557.8" fill="#000080" font-size="6">J_TEC1</text>
<text x="125.5" y="604.1" fill="#000080" font-size="6">TYPE-C-2P</text>
<text x="132.5" y="567.8" fill="#000000" font-size="6">VCC</text>
<text x="132" y="594.6" fill="#000000" font-size="6">GND</text>
<text x="125.6" y="572.2" fill="#000000" font-size="6" transform="rotate(-90 125.6 572.2)">NC</text>
<text x="125.6" y="594.3" fill="#000000" font-size="6" transform="rotate(-90 125.6 594.3)">NC</text>
<path d="M148.9 566.5L162 566.5" stroke="#000000" stroke-width="1"/>
<path d="M162 566.5L181.8 566.5" stroke="#000080" stroke-width="1" fill="none"/>
<text x="154.7" y="564.4" fill="#000000" font-size="6">1</text>
<text x="168.6" y="564.1" fill="#800000" font-size="6">VIN+</text>
<path d="M148.9 593.5L162 593.5" stroke="#000000" stroke-width="1"/>
<path d="M162 593.5L182.5 593.5L182.5 599.4" stroke="#000080" stroke-width="1" fill="none"/>
<text x="154.4" y="590.7" fill="#000000" font-size="6" transform="rotate(-90 154.4 590.7)">2</text>
<path d="M182.5 599.4L182.5 606.2" stroke="#800000" stroke-width="1"/>
<path d="M175.8 606.5L189.2 606.5" stroke="#800000" stroke-width="1"/>
<path d="M177.6 608.5L187.4 608.5" stroke="#800000" stroke-width="1"/>
<path d="M179.5 610.5L185.5 610.5" stroke="#800000" stroke-width="1"/>
<path d="M181.8 612.5L183.2 612.5" stroke="#800000" stroke-width="1"/>
<text x="182.5" y="617.45" fill="#800000" font-size="6" text-anchor="middle">GND</text>
<path d="M261.5 520L261.5 513.5" stroke="#800000" stroke-width="1"/>
<path d="M258.6 513.5L264.6 513.5" stroke="#800000" stroke-width="1"/>
<text x="261.6" y="511.1" fill="#800000" font-size="6" text-anchor="middle">VCC</text>
<path d="M261.5 520L261.5 526.7" stroke="#000080" stroke-width="1" fill="none"/>
<circle cx="261.5" cy="526.5" r="1.1" fill="#000080"/>
<path d="M261.5 526.7L261.5 534" stroke="#000000" stroke-width="1"/>
<path d="M261.6 534L262.9 534.84L260.3 536.52L262.9 538.21L260.3 539.89L262.9 541.58L260.3 543.26L261.6 544.1" stroke="#0000ff" stroke-width="1" fill="none"/>
<path d="M261.5 544.1L261.5 551" stroke="#000000" stroke-width="1"/>
<path d="M261.5 551L261.5 561" stroke="#000080" stroke-width="1" fill="none"/>
<path d="M261.5 561L261.5 573.3" stroke="#0000ff" stroke-width="1"/>
<path d="M255.6 573.3L267.6 573.3L261.6 580.2Z" stroke="#0000ff" stroke-width="0.4" fill="#0000ff"/>
<path d="M255.6 580.7L267.6 580.7" stroke="#0000ff" stroke-width="1.5"/>
<path d="M261.5 580.5L261.5 585.3" stroke="#0000ff" stroke-width="1"/>
<path d="M261.5 585.3L261.5 593.2" stroke="#000080" stroke-width="1" fill="none"/>
<circle cx="261.5" cy="593.5" r="1.1" fill="#000080"/>
<text x="263.3" y="537.7" fill="#000080" font-size="6">J_R1</text>
<text x="264.5" y="544.2" fill="#000080" font-size="6">1K</text>
<text x="246.3" y="570" fill="#000080" font-size="6">J_D1</text>
<text x="246.6" y="585.3" fill="#000080" font-size="6">LED</text>
<path d="M274.6 580.9L271.8 583.7" stroke="#0000ff" stroke-width="0.9" fill="none"/>
<path d="M271.4 581.7L271.4 584.1L273.8 584.1Z" stroke="#0000ff" stroke-width="0.3" fill="#0000ff"/>
<path d="M274 585.7L271.2 588.5" stroke="#0000ff" stroke-width="0.9" fill="none"/>
<path d="M270.8 586.5L270.8 588.9L273.2 588.9Z" stroke="#0000ff" stroke-width="0.3" fill="#0000ff"/>
<path d="M261.6 526.5L281.5 526.5L281.5 547" stroke="#000080" stroke-width="1" fill="none"/>
<path d="M281.5 547L281.5 560.5" stroke="#000000" stroke-width="1"/>
<rect x="275.5" y="560.5" width="13" height="13" fill="#fffffa" stroke="#0000ff" stroke-width="1.2"/>
<path d="M281.5 573.3L281.5 585.3" stroke="#000000" stroke-width="1"/>
<path d="M281.5 585.3L281.5 593.5L261.6 593.5" stroke="#000080" stroke-width="1" fill="none"/>
<text x="280" y="554.5" fill="#000000" font-size="4.4" transform="rotate(-90 280 554.5)">2</text>
<text x="280" y="580.5" fill="#000000" font-size="4.4" transform="rotate(-90 280 580.5)">1</text>
<path d="M301.5 519.9L301.5 546.2" stroke="#000080" stroke-width="1" fill="none"/>
<path d="M301.5 546.2L301.5 560.5" stroke="#000000" stroke-width="1"/>
<text x="299.6" y="546" fill="#800000" font-size="6" transform="rotate(-90 299.6 546)">VIN-</text>
<text x="299.4" y="554.8" fill="#000000" font-size="4.4" transform="rotate(-90 299.4 554.8)">3</text>
<path d="M300.7 560.5L308.1 573.3" stroke="#0000ff" stroke-width="1.1"/>
<path d="M290.5 566.4H304" stroke="#0000ff" stroke-width="1" stroke-dasharray="3 2.2"/>
<circle cx="295" cy="571.3" r="1" stroke="#0000ff" fill="#fff" stroke-width="0.9"/>
<circle cx="308.2" cy="573.3" r="0.8" stroke="#0000ff" fill="#0000ff" stroke-width="0.5"/>
<path d="M295.5 572.6L295.5 599.3" stroke="#000080" stroke-width="1" fill="none"/>
<path d="M295.6 599.5L308.3 599.5" stroke="#000000" stroke-width="1"/>
<path d="M308.5 573.5L308.5 585.3" stroke="#000000" stroke-width="1"/>
<path d="M306.5 588.5L309.1 585.9" stroke="#ff0000" stroke-width="1"/>
<text x="292.8" y="581" fill="#000000" font-size="4.4" transform="rotate(-90 292.8 581)">5</text>
<text x="306.2" y="581" fill="#000000" font-size="4.4" transform="rotate(-90 306.2 581)">4</text>
<text x="310.3" y="563.3" fill="#000080" font-size="6">J_JK1</text>
<text x="310.3" y="570.4" fill="#000080" font-size="6">SRD-05</text>
<text x="309.6" y="590.6" fill="#000080" font-size="6">J_JD1</text>
<text x="307.5" y="617" fill="#000080" font-size="6">2P</text>
<rect x="308.5" y="593.5" width="12" height="19" fill="#ffffb0" stroke="#00b000" stroke-width="1.3"/>
<path d="M309.1 596.5L315.5 596.5L315.5 609.5L309.1 609.5" stroke="#000080" stroke-width="1.1" fill="none"/>
<path d="M309.1 603.5L315.1 603.5" stroke="#000080" stroke-width="1.1"/>
<path d="M295.6 606.5L308.3 606.5" stroke="#000000" stroke-width="1"/>
<path d="M295.5 606.3L295.5 631.8" stroke="#000080" stroke-width="1" fill="none"/>
<path d="M295.5 631.8L295.5 639" stroke="#800000" stroke-width="1"/>
<path d="M288.9 639.5L302.3 639.5" stroke="#800000" stroke-width="1"/>
<path d="M290.7 640.5L300.5 640.5" stroke="#800000" stroke-width="1"/>
<path d="M292.6 642.5L298.6 642.5" stroke="#800000" stroke-width="1"/>
<path d="M294.9 644.5L296.3 644.5" stroke="#800000" stroke-width="1"/>
<text x="295.6" y="650.25" fill="#800000" font-size="6" text-anchor="middle">GND</text>
<text x="301" y="597.6" fill="#000000" font-size="4.6">1</text>
<text x="301" y="604.6" fill="#000000" font-size="4.6">2</text>
<path d="M261.5 593.2L261.5 606.8" stroke="#000000" stroke-width="1"/>
<path d="M248 610L248 627.4" stroke="#0000ff" stroke-width="1.8"/>
<path d="M248 617.7L261.6 606.8" stroke="#0000ff" stroke-width="1"/>
<path d="M248 620.7L261.6 632.4" stroke="#0000ff" stroke-width="1"/>
<path d="M257.25 628.66L253.17 627.26L255.26 624.83Z" stroke="#0000ff" stroke-width="0.3" fill="#0000ff"/>
<path d="M261.5 632.4L261.5 645.9" stroke="#000000" stroke-width="1"/>
<path d="M261.5 645.9L261.5 652.2" stroke="#000080" stroke-width="1" fill="none"/>
<path d="M261.5 652.2L261.5 659.4" stroke="#800000" stroke-width="1"/>
<path d="M254.9 659.5L268.3 659.5" stroke="#800000" stroke-width="1"/>
<path d="M256.7 661.5L266.5 661.5" stroke="#800000" stroke-width="1"/>
<path d="M258.6 663.5L264.6 663.5" stroke="#800000" stroke-width="1"/>
<path d="M260.9 665.5L262.3 665.5" stroke="#800000" stroke-width="1"/>
<text x="261.6" y="670.65" fill="#800000" font-size="6" text-anchor="middle">GND</text>
<text x="260.4" y="601" fill="#000000" font-size="5" transform="rotate(-90 260.4 601)">C</text>
<text x="260.4" y="641.5" fill="#000000" font-size="5" transform="rotate(-90 260.4 641.5)">E</text>
<text x="226.1" y="617.4" fill="#000000" font-size="6">B</text>
<text x="263.7" y="609.9" fill="#000080" font-size="6">J_Q1</text>
<text x="263.7" y="616.6" fill="#000080" font-size="6">S9013</text>
<path d="M215.5 573.9L215.5 599" stroke="#000080" stroke-width="1" fill="none"/>
<path d="M215.6 599L217 600.66L214.2 603.99L217 607.31L214.2 610.64L215.6 612.3" stroke="#0000ff" stroke-width="1" fill="none"/>
<path d="M215.5 612.3L215.5 619.5L235 619.5" stroke="#000080" stroke-width="1" fill="none"/>
<path d="M235 619.5L248 619.5" stroke="#0000ff" stroke-width="1"/>
<text x="213.8" y="586.5" fill="#800000" font-size="6" transform="rotate(-90 213.8 586.5)">PB14</text>
<text x="217.2" y="603.6" fill="#000080" font-size="6">J_R2</text>
<text x="218.5" y="610" fill="#000080" font-size="6">1K</text>
<text class="cj" x="191.8" y="698.6" font-size="8.95">继电器控制电路</text>
<rect x="473.5" y="560.5" width="33" height="38" fill="#ffffb0" stroke="#800000" stroke-width="1"/>
<path d="M480.5 554.2L480.5 560.3" stroke="#000000" stroke-width="1"/>
<path d="M478.4 554.2L480.8 551.8" stroke="#ff0000" stroke-width="1"/>
<circle cx="478" cy="555.5" r="0.5" stroke="#ff0000" fill="#ff0000" stroke-width="0.4"/>
<path d="M480.5 598.5L480.5 606.8" stroke="#000000" stroke-width="1"/>
<circle cx="479.8" cy="607.2" r="0.9" stroke="#ff0000" fill="#ff0000" stroke-width="0.4"/>
<circle cx="477.6" cy="609.6" r="0.5" stroke="#ff0000" fill="#ff0000" stroke-width="0.4"/>
<path d="M506 566.5L534 566.5" stroke="#000000" stroke-width="1"/>
<path d="M506 593.5L534 593.5" stroke="#000000" stroke-width="1"/>
<text x="513.1" y="563.7" fill="#000080" font-size="6">VCC_OUT</text>
<text x="513.1" y="590.4" fill="#000080" font-size="6">GND_OUT</text>
<text x="493.4" y="567.3" fill="#000000" font-size="6">VCC</text>
<text x="492" y="593.8" fill="#000000" font-size="6">GND</text>
<text x="482.2" y="568.4" fill="#000000" font-size="6" transform="rotate(-90 482.2 568.4)">NC</text>
<text x="478.4" y="590.6" fill="#000000" font-size="6" transform="rotate(90 478.4 590.6)">NC</text>
<text x="488.5" y="604" fill="#000080" font-size="6">TYPE-C-2P</text>
<path d="M585.5 547.3L585.5 540.8" stroke="#800000" stroke-width="1"/>
<path d="M582.3 540.5L588.3 540.5" stroke="#800000" stroke-width="1"/>
<text x="585.3" y="538.4" fill="#800000" font-size="6" text-anchor="middle">VCC</text>
<path d="M585.5 547.3L585.5 560.5" stroke="#000000" stroke-width="1"/>
<path d="M566.5 566.5L566.5 560.5L612.5 560.5L612.5 566.7" stroke="#000000" stroke-width="1" fill="none"/>
<path d="M566.5 580L566.5 599.5L612.5 599.5L612.5 579.9" stroke="#000000" stroke-width="1" fill="none"/>
<path d="M566.5 560.5L566.5 566.5" stroke="#0000ff" stroke-width="1"/>
<path d="M560.1 573.5L572.9 573.5L566.5 566.5Z" stroke="#0000ff" stroke-width="0.4" fill="#0000ff"/>
<path d="M560.1 566.5L572.9 566.5" stroke="#0000ff" stroke-width="1.3"/>
<path d="M566.5 573.5L566.5 580" stroke="#0000ff" stroke-width="1"/>
<text x="567.9" y="574.8" fill="#000080" font-size="5.3" transform="rotate(90 567.9 574.8)">1N4007</text>
<path d="M585.5 560.5L585.5 566.5" stroke="#0000ff" stroke-width="1"/>
<path d="M578.9 566.5L591.7 566.5L585.3 573.4Z" stroke="#0000ff" stroke-width="0.4" fill="#0000ff"/>
<path d="M578.9 573.9L591.7 573.9" stroke="#0000ff" stroke-width="1.5"/>
<path d="M585.5 573.5L585.5 586.3" stroke="#0000ff" stroke-width="1"/>
<path d="M585.3 586.3L586.8 587.59L583.8 590.16L586.8 592.74L583.8 595.31L585.3 596.6" stroke="#0000ff" stroke-width="1" fill="none"/>
<path d="M585.5 596.6L585.5 599.4" stroke="#0000ff" stroke-width="1"/>
<text x="586.5" y="577.3" fill="#000080" font-size="4.8" transform="rotate(90 586.5 577.3)">LED</text>
<text x="582.5" y="597" fill="#000080" font-size="4.8" transform="rotate(-90 582.5 597)">1K</text>
<path d="M598 575L595.2 577.8" stroke="#0000ff" stroke-width="0.9" fill="none"/>
<path d="M594.8 575.8L594.8 578.2L597.2 578.2Z" stroke="#0000ff" stroke-width="0.3" fill="#0000ff"/>
<path d="M597.4 579.8L594.6 582.6" stroke="#0000ff" stroke-width="0.9" fill="none"/>
<path d="M594.2 580.6L594.2 583L596.6 583Z" stroke="#0000ff" stroke-width="0.3" fill="#0000ff"/>
<rect x="605.5" y="566.5" width="13" height="13" fill="#fffffa" stroke="#0000ff" stroke-width="1.3"/>
<path d="M621 573.5H637" stroke="#0000ff" stroke-width="1" stroke-dasharray="3 2.2"/>
<path d="M632.5 541.3L632.5 566.5" stroke="#000000" stroke-width="1"/>
<path d="M631.2 566.8L638.9 578.7" stroke="#0000ff" stroke-width="1.1"/>
<circle cx="631.3" cy="567.2" r="0.8" stroke="#0000ff" fill="#0000ff" stroke-width="0.5"/>
<circle cx="638.9" cy="578.7" r="0.8" stroke="#0000ff" fill="#0000ff" stroke-width="0.5"/>
<text x="629.9" y="565.2" fill="#000080" font-size="6" transform="rotate(-90 629.9 565.2)">VCC_OUT</text>
<circle cx="625.2" cy="578.4" r="1" stroke="#0000ff" fill="#fff" stroke-width="0.9"/>
<path d="M625.5 579.6L625.5 599.5" stroke="#000000" stroke-width="1"/>
<path d="M625.2 599.5L638.5 599.5" stroke="#000000" stroke-width="1"/>
<path d="M638.5 578.7L638.5 585" stroke="#000000" stroke-width="1"/>
<path d="M636.9 587.9L639.7 585.1" stroke="#ff0000" stroke-width="1"/>
<text x="597.3" y="589.5" fill="#000080" font-size="5.6">SRD-05VDC-SL-C</text>
<rect x="638.5" y="593.5" width="13" height="19" fill="#ffffb0" stroke="#00b000" stroke-width="1.3"/>
<path d="M639.3 596.5L645.5 596.5L645.5 609.5L639.3 609.5" stroke="#000080" stroke-width="1.1" fill="none"/>
<path d="M639.3 602.5L645.3 602.5" stroke="#000080" stroke-width="1.1"/>
<path d="M638.5 606.5L625.5 606.5L625.5 631.5" stroke="#000000" stroke-width="1" fill="none"/>
<text x="623" y="631.5" fill="#000080" font-size="6" transform="rotate(-90 623 631.5)">GND_OUT</text>
<path d="M585.5 599.4L585.5 606" stroke="#000000" stroke-width="1"/>
<path d="M572 609.9L572 627.3" stroke="#0000ff" stroke-width="1.8"/>
<path d="M572 617.6L585.3 606.7" stroke="#0000ff" stroke-width="1"/>
<path d="M572 620.6L585.3 632.3" stroke="#0000ff" stroke-width="1"/>
<path d="M581.04 628.56L576.98 627.12L579.1 624.71Z" stroke="#0000ff" stroke-width="0.3" fill="#0000ff"/>
<path d="M585.5 632.6L585.5 645.6" stroke="#000000" stroke-width="1"/>
<path d="M585.5 645.6L585.5 652.4" stroke="#800000" stroke-width="1"/>
<path d="M578.6 652.5L592 652.5" stroke="#800000" stroke-width="1"/>
<path d="M580.4 654.5L590.2 654.5" stroke="#800000" stroke-width="1"/>
<path d="M582.3 656.5L588.3 656.5" stroke="#800000" stroke-width="1"/>
<path d="M584.6 658.5L586 658.5" stroke="#800000" stroke-width="1"/>
<text x="585.3" y="663.65" fill="#800000" font-size="6" text-anchor="middle">GND</text>
<text x="585.9" y="623.8" fill="#000080" font-size="6">NPN</text>
<path d="M507.2 619.5L526.9 619.5" stroke="#000080" stroke-width="1" fill="none"/>
<path d="M526.9 619.5L539 619.5" stroke="#000000" stroke-width="1"/>
<path d="M539 619.3L540 618L542 620.6L544 618L546 620.6L548 618L550 620.6L551 619.3" stroke="#0000ff" stroke-width="1" fill="none"/>
<path d="M551 619.5L558.9 619.5" stroke="#000000" stroke-width="1"/>
<path d="M558.9 619.5L572 619.5" stroke="#0000ff" stroke-width="1"/>
<text x="513" y="617.1" fill="#800000" font-size="6">PA8</text>
<text x="540.4" y="615.3" fill="#000080" font-size="5.2">1K</text>
<path d="M717.5 547.3L717.5 540.8" stroke="#800000" stroke-width="1"/>
<path d="M714.7 540.5L720.7 540.5" stroke="#800000" stroke-width="1"/>
<text x="717.7" y="538.4" fill="#800000" font-size="6" text-anchor="middle">VCC</text>
<path d="M717.5 547.3L717.5 560.5" stroke="#000000" stroke-width="1"/>
<path d="M698.5 566.5L698.5 560.5L744.5 560.5L744.5 566.7" stroke="#000000" stroke-width="1" fill="none"/>
<path d="M698.5 580L698.5 599.5L744.5 599.5L744.5 579.9" stroke="#000000" stroke-width="1" fill="none"/>
<path d="M698.5 560.5L698.5 566.5" stroke="#0000ff" stroke-width="1"/>
<path d="M692.5 573.5L705.3 573.5L698.9 566.5Z" stroke="#0000ff" stroke-width="0.4" fill="#0000ff"/>
<path d="M692.5 566.5L705.3 566.5" stroke="#0000ff" stroke-width="1.3"/>
<path d="M698.5 573.5L698.5 580" stroke="#0000ff" stroke-width="1"/>
<text x="700.3" y="574.8" fill="#000080" font-size="5.3" transform="rotate(90 700.3 574.8)">1N4007</text>
<path d="M717.5 560.5L717.5 566.5" stroke="#0000ff" stroke-width="1"/>
<path d="M711.3 566.5L724.1 566.5L717.7 573.4Z" stroke="#0000ff" stroke-width="0.4" fill="#0000ff"/>
<path d="M711.3 573.9L724.1 573.9" stroke="#0000ff" stroke-width="1.5"/>
<path d="M717.5 573.5L717.5 586.3" stroke="#0000ff" stroke-width="1"/>
<path d="M717.7 586.3L719.2 587.59L716.2 590.16L719.2 592.74L716.2 595.31L717.7 596.6" stroke="#0000ff" stroke-width="1" fill="none"/>
<path d="M717.5 596.6L717.5 599.4" stroke="#0000ff" stroke-width="1"/>
<text x="718.9" y="577.3" fill="#000080" font-size="4.8" transform="rotate(90 718.9 577.3)">LED</text>
<text x="714.9" y="597" fill="#000080" font-size="4.8" transform="rotate(-90 714.9 597)">1K</text>
<path d="M730.4 575L727.6 577.8" stroke="#0000ff" stroke-width="0.9" fill="none"/>
<path d="M727.2 575.8L727.2 578.2L729.6 578.2Z" stroke="#0000ff" stroke-width="0.3" fill="#0000ff"/>
<path d="M729.8 579.8L727 582.6" stroke="#0000ff" stroke-width="0.9" fill="none"/>
<path d="M726.6 580.6L726.6 583L729 583Z" stroke="#0000ff" stroke-width="0.3" fill="#0000ff"/>
<rect x="737.5" y="566.5" width="14" height="13" fill="#fffffa" stroke="#0000ff" stroke-width="1.3"/>
<path d="M753.4 573.5H769.4" stroke="#0000ff" stroke-width="1" stroke-dasharray="3 2.2"/>
<path d="M764.5 541.3L764.5 566.5" stroke="#000000" stroke-width="1"/>
<path d="M763.6 566.8L771.3 578.7" stroke="#0000ff" stroke-width="1.1"/>
<circle cx="763.7" cy="567.2" r="0.8" stroke="#0000ff" fill="#0000ff" stroke-width="0.5"/>
<circle cx="771.3" cy="578.7" r="0.8" stroke="#0000ff" fill="#0000ff" stroke-width="0.5"/>
<text x="762.3" y="565.2" fill="#000080" font-size="6" transform="rotate(-90 762.3 565.2)">VCC_OUT</text>
<circle cx="757.6" cy="578.4" r="1" stroke="#0000ff" fill="#fff" stroke-width="0.9"/>
<path d="M757.5 579.6L757.5 599.5" stroke="#000000" stroke-width="1"/>
<path d="M757.6 599.5L770.9 599.5" stroke="#000000" stroke-width="1"/>
<path d="M771.5 578.7L771.5 585" stroke="#000000" stroke-width="1"/>
<path d="M769.3 587.9L772.1 585.1" stroke="#ff0000" stroke-width="1"/>
<text x="729.7" y="589.5" fill="#000080" font-size="5.6">SRD-05VDC-SL-C</text>
<rect x="770.5" y="593.5" width="13" height="19" fill="#ffffb0" stroke="#00b000" stroke-width="1.3"/>
<path d="M771.7 596.5L777.5 596.5L777.5 609.5L771.7 609.5" stroke="#000080" stroke-width="1.1" fill="none"/>
<path d="M771.7 602.5L777.7 602.5" stroke="#000080" stroke-width="1.1"/>
<path d="M770.9 606.5L757.5 606.5L757.5 631.5" stroke="#000000" stroke-width="1" fill="none"/>
<text x="755.4" y="631.5" fill="#000080" font-size="6" transform="rotate(-90 755.4 631.5)">GND_OUT</text>
<path d="M717.5 599.4L717.5 606" stroke="#000000" stroke-width="1"/>
<path d="M704.4 609.9L704.4 627.3" stroke="#0000ff" stroke-width="1.8"/>
<path d="M704.4 617.6L717.7 606.7" stroke="#0000ff" stroke-width="1"/>
<path d="M704.4 620.6L717.7 632.3" stroke="#0000ff" stroke-width="1"/>
<path d="M713.44 628.56L709.38 627.12L711.5 624.71Z" stroke="#0000ff" stroke-width="0.3" fill="#0000ff"/>
<path d="M717.5 632.6L717.5 645.6" stroke="#000000" stroke-width="1"/>
<path d="M717.5 645.6L717.5 652.4" stroke="#800000" stroke-width="1"/>
<path d="M711 652.5L724.4 652.5" stroke="#800000" stroke-width="1"/>
<path d="M712.8 654.5L722.6 654.5" stroke="#800000" stroke-width="1"/>
<path d="M714.7 656.5L720.7 656.5" stroke="#800000" stroke-width="1"/>
<path d="M717 658.5L718.4 658.5" stroke="#800000" stroke-width="1"/>
<text x="717.7" y="663.65" fill="#800000" font-size="6" text-anchor="middle">GND</text>
<text x="718.3" y="623.8" fill="#000080" font-size="6">NPN</text>
<path d="M639.6 619.5L659.3 619.5" stroke="#000080" stroke-width="1" fill="none"/>
<path d="M659.3 619.5L671.4 619.5" stroke="#000000" stroke-width="1"/>
<path d="M671.4 619.3L672.4 618L674.4 620.6L676.4 618L678.4 620.6L680.4 618L682.4 620.6L683.4 619.3" stroke="#0000ff" stroke-width="1" fill="none"/>
<path d="M683.4 619.5L691.3 619.5" stroke="#000000" stroke-width="1"/>
<path d="M691.3 619.5L704.4 619.5" stroke="#0000ff" stroke-width="1"/>
<text x="645.4" y="617.1" fill="#800000" font-size="6">PA11</text>
<text x="672.8" y="615.3" fill="#000080" font-size="5.2">1K</text>
<text x="770.9" y="617.6" fill="#000080" font-size="6">JK1</text>
<text x="770.9" y="624.4" fill="#000080" font-size="6">SRD-05</text>
<text class="cj" x="614.6" y="677" font-size="9.04">继电器控制电路</text>
<path d="M16.4 74.8 L24.9 33.2 L36 74.6 L49 32.8 L58 74.4" stroke="#1be9c5" stroke-width="5.8" stroke-linecap="round" stroke-linejoin="round" fill="none"/>
<path d="M93 36 C79 30.5 69.5 45 70.5 56 C71.5 70 83 76 94 66 M107.3 33.5 L107.3 58 C107.3 79 137 79 137 58 L137 34 " stroke="#1be9c5" stroke-width="7.2" stroke-linecap="round" stroke-linejoin="round" fill="none"/>
<path d="M167.8 49 C158 44.5 149 51.5 149.3 61 C149.6 71.5 160 76.2 168.6 70.6 M183 31.3 L183 74.6 M196.3 48.3 L196.3 62.5 C196.3 78.5 214.9 78.5 214.9 62.5 M214.9 48.3 L214.9 74.6 M228.8 33.1 L228.8 74.6 M228.8 61 C228.8 41.5 251.2 41.5 251.2 60.5 C251.2 79.5 228.8 79.5 228.8 61" stroke="#1be9c5" stroke-width="6.7" stroke-linecap="round" stroke-linejoin="round" fill="none"/>
</g>
</svg>
</body></html>
